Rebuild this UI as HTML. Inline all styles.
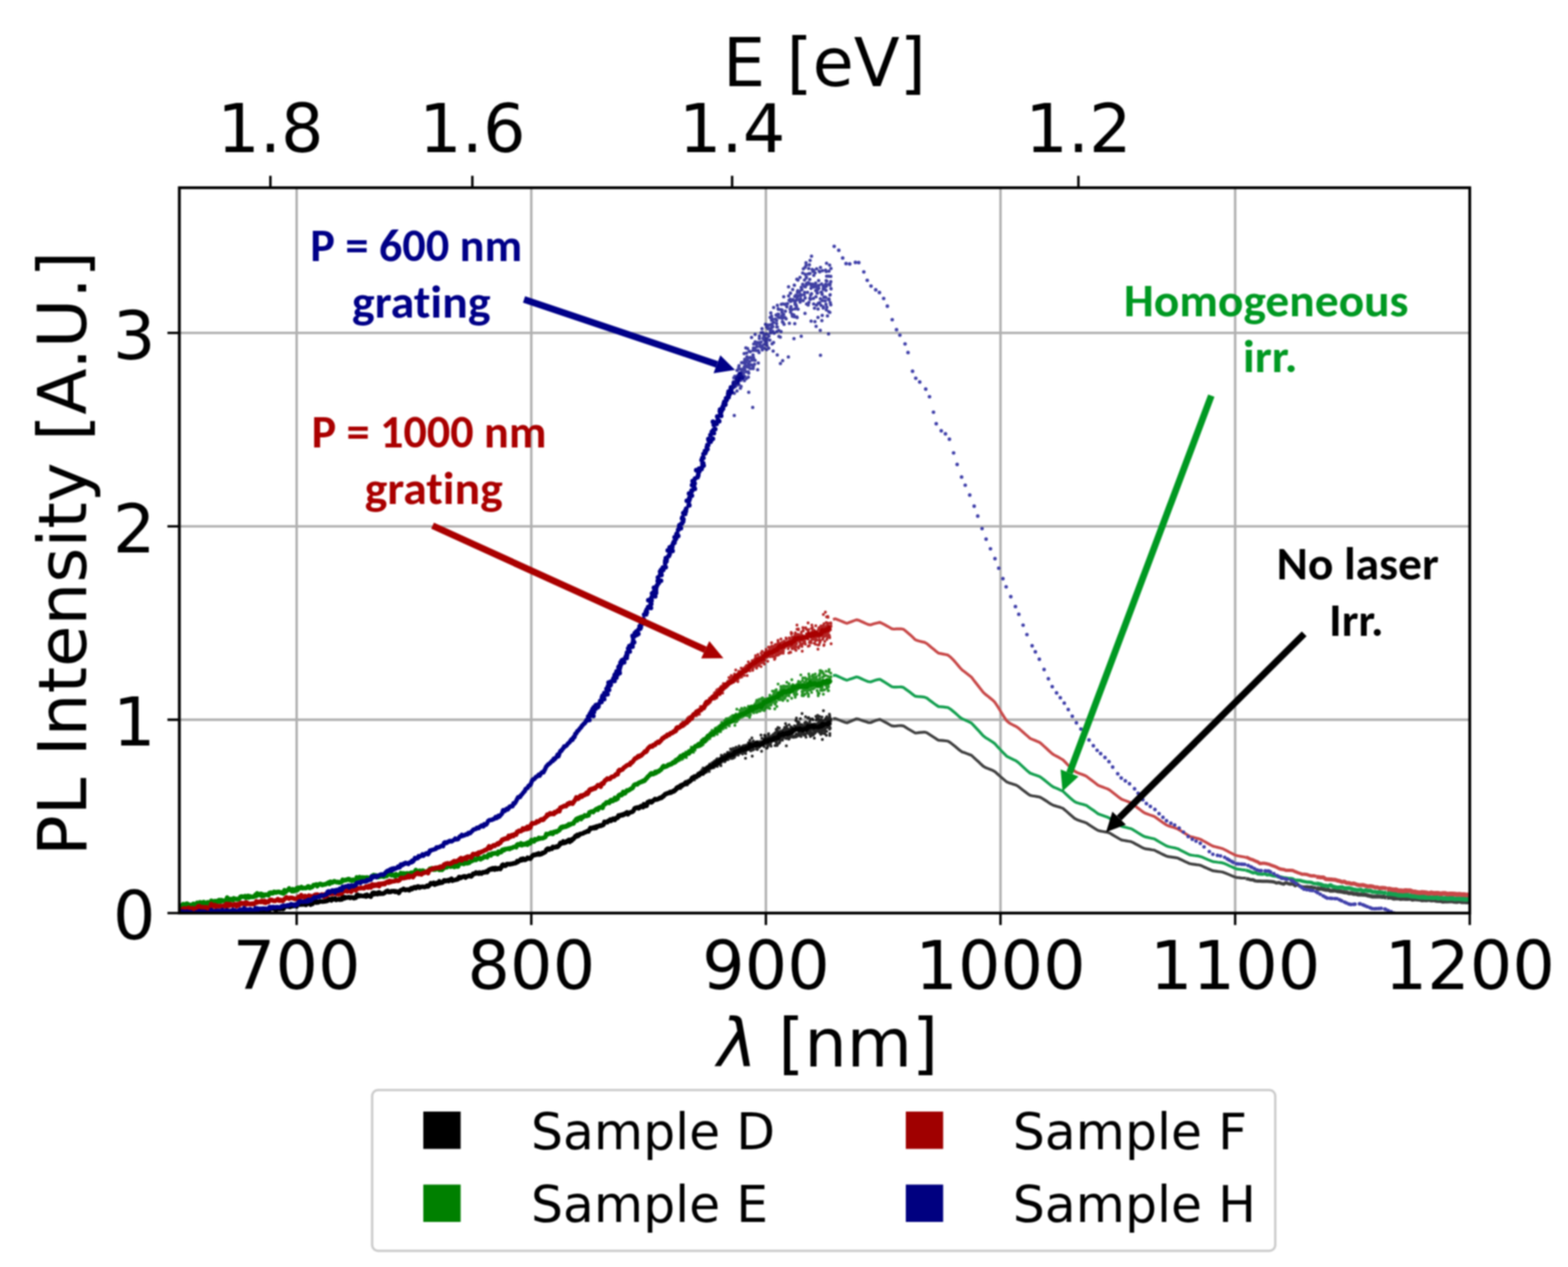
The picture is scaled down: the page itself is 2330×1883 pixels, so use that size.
<!DOCTYPE html>
<html><head><meta charset="utf-8"><title>PL Intensity spectra</title>
<style>html,body{margin:0;padding:0;background:#fff}svg{display:block}#w{filter:blur(0.8px)}</style>
</head><body>
<div id="w"><svg width="2330" height="1883" viewBox="0 0 2330 1883">
<rect width="2330" height="1883" fill="#fff"/>
<path d="M440.8 279.0V1357.0M789.5 279.0V1357.0M1138.1 279.0V1357.0M1486.7 279.0V1357.0M1835.4 279.0V1357.0M266.5 1069.6H2184.0M266.5 782.2H2184.0M266.5 494.8H2184.0" stroke="#b0b0b0" stroke-width="3.6" fill="none"/>
<defs><clipPath id="ax"><rect x="266.5" y="279.0" width="1917.5" height="1078.0"/></clipPath></defs>
<g clip-path="url(#ax)">
<path d="M266.5 1356.5 267.9 1357 269.3 1356.6 270.7 1353.4 272.1 1354 273.5 1353.7 274.9 1354.8 276.3 1356.2 277.7 1354.7 279.1 1354.8 280.4 1355.9 281.8 1356 283.2 1355.9 284.6 1355.2 286 1356.2 287.4 1357 288.8 1355.3 290.2 1356.3 291.6 1355.2 293 1353.1 294.4 1352.7 295.8 1354.4 297.2 1353.6 298.6 1355.1 300 1355.2 301.4 1355.1 302.8 1353.1 304.2 1355.1 305.5 1355.7 306.9 1356 308.3 1354.7 309.7 1355.8 311.1 1355.5 312.5 1355.8 313.9 1354.9 315.3 1353.3 316.7 1354.2 318.1 1355.2 319.5 1354 320.9 1354.6 322.3 1355 323.7 1355.1 325.1 1354.1 326.5 1355.4 327.9 1356.7 329.3 1354.2 330.6 1356.6 332 1356 333.4 1355.5 334.8 1358 336.2 1354.3 337.6 1352.7 339 1354 340.4 1354.6 341.8 1354 343.2 1354.9 344.6 1354.4 346 1355.2 347.4 1356.1 348.8 1354.3 350.2 1355.2 351.6 1354.8 353 1355.5 354.4 1354.4 355.8 1355.1 357.1 1352.8 358.5 1353.9 359.9 1354.3 361.3 1352.2 362.7 1352.8 364.1 1354.3 365.5 1352 366.9 1353.5 368.3 1354 369.7 1355.4 371.1 1355 372.5 1354.2 373.9 1354.3 375.3 1354.5 376.7 1356.3 378.1 1354.7 379.5 1352.1 380.9 1352.8 382.2 1352.5 383.6 1352.6 385 1351.9 386.4 1353 387.8 1352.8 389.2 1354.3 390.6 1354 392 1353.5 393.4 1354.2 394.8 1353.3 396.2 1354.6 397.6 1353.7 399 1354.3 400.4 1349.8 401.8 1351.3 403.2 1349.5 404.6 1349.2 406 1350.7 407.3 1350.1 408.7 1351 410.1 1352.9 411.5 1350.1 412.9 1350.2 414.3 1350.9 415.7 1351.1 417.1 1350.4 418.5 1350.3 419.9 1351 421.3 1350.8 422.7 1346.5 424.1 1347.3 425.5 1347.3 426.9 1346.3 428.3 1347.4 429.7 1346.3 431.1 1347.9 432.5 1347.1 433.8 1346.9 435.2 1346.3 436.6 1346.6 438 1344.9 439.4 1345.6 440.8 1347 442.2 1344.7 443.6 1344.5 445 1342.2 446.4 1344.4 447.8 1342.9 449.2 1344.3 450.6 1343.7 452 1342.2 453.4 1344.7 454.8 1344.8 456.2 1343.4 457.6 1343.2 458.9 1343.2 460.3 1342.5 461.7 1344.3 463.1 1342.8 464.5 1343.2 465.9 1339.7 467.3 1339.8 468.7 1339.2 470.1 1341.4 471.5 1340.1 472.9 1341.1 474.3 1340.2 475.7 1339.5 477.1 1339.8 478.5 1339.6 479.9 1340 481.3 1339.7 482.7 1339.7 484 1338.7 485.4 1339.2 486.8 1338.6 488.2 1336.4 489.6 1336.1 491 1337.3 492.4 1338.2 493.8 1335.6 495.2 1336.7 496.6 1336.3 498 1335.3 499.4 1337.5 500.8 1336.8 502.2 1336.9 503.6 1336.1 505 1337.2 506.4 1336.3 507.8 1336.7 509.2 1333 510.5 1332.9 511.9 1335.2 513.3 1333.5 514.7 1334.2 516.1 1333.9 517.5 1333.5 518.9 1333.5 520.3 1334.5 521.7 1333.6 523.1 1333.8 524.5 1333.9 525.9 1334.9 527.3 1334.5 528.7 1334.2 530.1 1330.5 531.5 1329.8 532.9 1331.9 534.3 1331.9 535.6 1330.9 537 1331.5 538.4 1331.7 539.8 1331.7 541.2 1331.8 542.6 1330.6 544 1332.3 545.4 1329.8 546.8 1331.7 548.2 1331.4 549.6 1331.7 551 1332.6 552.4 1329.4 553.8 1327.1 555.2 1326.6 556.6 1328.8 558 1327.2 559.4 1328.1 560.7 1328.9 562.1 1326.6 563.5 1326.2 564.9 1328.4 566.3 1328.2 567.7 1327.9 569.1 1328.2 570.5 1327.4 571.9 1326.8 573.3 1325.2 574.7 1324.5 576.1 1323.9 577.5 1325.8 578.9 1325.3 580.3 1325.7 581.7 1324.5 583.1 1324.7 584.5 1324.4 585.9 1324.5 587.2 1325.5 588.6 1324.6 590 1325.6 591.4 1325.6 592.8 1327.1 594.2 1324 595.6 1323.2 597 1322.3 598.4 1322.4 599.8 1321 601.2 1321.9 602.6 1322.9 604 1322.1 605.4 1322.3 606.8 1321.9 608.2 1323.1 609.6 1322 611 1320 612.3 1321.3 613.7 1320.1 615.1 1318.8 616.5 1318.4 617.9 1320 619.3 1318.7 620.7 1317.5 622.1 1317.6 623.5 1319.3 624.9 1318.3 626.3 1318.1 627.7 1317.9 629.1 1317.8 630.5 1318.4 631.9 1318 633.3 1317.5 634.7 1316.3 636.1 1317.5 637.4 1316.3 638.8 1314.9 640.2 1312.6 641.6 1313.5 643 1313.4 644.4 1312.1 645.8 1314.7 647.2 1314.3 648.6 1312.4 650 1313.3 651.4 1312.8 652.8 1309.9 654.2 1312.4 655.6 1311.9 657 1311.9 658.4 1310.7 659.8 1308.5 661.2 1308.4 662.6 1309.5 663.9 1308.6 665.3 1308.1 666.7 1309.4 668.1 1307.4 669.5 1307.4 670.9 1306 672.3 1308.9 673.7 1308.2 675.1 1308 676.5 1307.7 677.9 1307 679.3 1307 680.7 1306.4 682.1 1303.5 683.5 1303.6 684.9 1304.8 686.3 1303.8 687.7 1303.1 689 1302.5 690.4 1302.3 691.8 1304.2 693.2 1303 694.6 1302.5 696 1302 697.4 1301.1 698.8 1301.9 700.2 1302.6 701.6 1301.3 703 1298.5 704.4 1298.3 705.8 1298.5 707.2 1296.8 708.6 1297.8 710 1297.1 711.4 1298.4 712.8 1296.8 714.1 1297.8 715.5 1298.4 716.9 1296.6 718.3 1296.1 719.7 1296.6 721.1 1296.3 722.5 1295.1 723.9 1296.2 725.3 1294.6 726.7 1292.3 728.1 1292.2 729.5 1291.2 730.9 1292.2 732.3 1290.5 733.7 1290.4 735.1 1292.3 736.5 1290.1 737.9 1291.7 739.3 1291.8 740.6 1290.4 742 1290.4 743.4 1291.4 744.8 1289.3 746.2 1285.8 747.6 1284.9 749 1285.9 750.4 1286.9 751.8 1286.2 753.2 1284.2 754.6 1284.1 756 1284.1 757.4 1284.6 758.8 1283.9 760.2 1284 761.6 1283.8 763 1283 764.4 1283 765.7 1282.9 767.1 1282.4 768.5 1279.9 769.9 1280.9 771.3 1279.5 772.7 1278.7 774.1 1276.9 775.5 1278.5 776.9 1276.1 778.3 1276.3 779.7 1278.1 781.1 1277.7 782.5 1276.6 783.9 1274.9 785.3 1275.8 786.7 1275.2 788.1 1276.1 789.5 1274.4 790.8 1272.2 792.2 1271 793.6 1270.2 795 1270.9 796.4 1270.4 797.8 1269.1 799.2 1269.9 800.6 1268.4 802 1270 803.4 1269.6 804.8 1269.2 806.2 1267.4 807.6 1267.8 809 1266.8 810.4 1266.2 811.8 1263 813.2 1261.7 814.6 1261.1 816 1262.7 817.3 1261.3 818.7 1261.2 820.1 1261.5 821.5 1258.6 822.9 1259 824.3 1259.4 825.7 1259.1 827.1 1257.9 828.5 1258.7 829.9 1257.5 831.3 1255.8 832.7 1252.8 834.1 1253.9 835.5 1253.1 836.9 1250.5 838.3 1252.9 839.7 1251.8 841.1 1252 842.4 1249.9 843.8 1249.5 845.2 1248.3 846.6 1251.1 848 1248.2 849.4 1249.3 850.8 1246.7 852.2 1246.9 853.6 1244.8 855 1242.6 856.4 1243.3 857.8 1240.8 859.2 1242.3 860.6 1241.2 862 1239.4 863.4 1239.4 864.8 1238.9 866.2 1238.7 867.5 1237.8 868.9 1237 870.3 1236.9 871.7 1235.8 873.1 1235.1 874.5 1235.7 875.9 1233.2 877.3 1230.6 878.7 1231.5 880.1 1230.4 881.5 1229.7 882.9 1230.9 884.3 1229.2 885.7 1230.5 887.1 1228 888.5 1228.6 889.9 1227.6 891.3 1226.7 892.7 1227.5 894 1226.4 895.4 1226.6 896.8 1225.6 898.2 1221.4 899.6 1221.9 901 1221.6 902.4 1222 903.8 1219.9 905.2 1220.2 906.6 1218.2 908 1219.9 909.4 1217.9 910.8 1216.8 912.2 1218 913.6 1218.6 915 1215.8 916.4 1215.7 917.8 1215.6 919.1 1212 920.5 1212.9 921.9 1211.3 923.3 1211 924.7 1211.7 926.1 1210.1 927.5 1210.7 928.9 1209 930.3 1208.3 931.7 1207.3 933.1 1210.2 934.5 1207.8 935.9 1207.8 937.3 1207.1 938.7 1206.8 940.1 1206.3 941.5 1204.7 942.9 1201.6 944.2 1200.7 945.6 1200.7 947 1200 948.4 1201.4 949.8 1201 951.2 1198.9 952.6 1198 954 1198.5 955.4 1199.6 956.8 1195.3 958.2 1197.9 959.6 1195.9 961 1197.4 962.4 1192.2 963.8 1192.4 965.2 1190.8 966.6 1190.8 968 1192.4 969.4 1191.4 970.7 1189.8 972.1 1188.9 973.5 1187.4 974.9 1188.3 976.3 1188.1 977.7 1187.5 979.1 1187 980.5 1185.6 981.9 1186 983.3 1185.5 984.7 1183.4 986.1 1183.4 987.5 1181.1 988.9 1180 990.3 1180.1 991.7 1179.1 993.1 1178.4 994.5 1178.5 995.8 1177 997.2 1178 998.6 1176.8 1000 1176.5 1001.4 1175.5 1002.8 1174.5 1004.2 1173.7 1005.6 1170.9 1007 1170 1008.4 1170.1 1009.8 1169.3 1011.2 1167.5 1012.6 1168.1 1014 1166.2 1015.4 1166.2 1016.8 1165.8 1018.2 1163.5 1019.6 1164.7 1020.9 1164.1 1022.3 1163 1023.7 1162.1 1025.1 1161.3 1026.5 1160 1027.9 1157.1 1029.3 1156.1 1030.7 1155.8 1032.1 1153.9 1033.5 1154.4 1034.9 1153.5 1036.3 1152.5 1037.7 1151.4 1039.1 1151.5 1040.5 1148.7 1041.9 1149.9 1043.3 1148.9 1044.7 1148.2 1046.1 1147.5 1047.4 1145.9 1048.8 1142.7 1050.2 1142.8 1051.6 1141.9 1053 1141 1054.4 1138.7 1055.8 1139.8 1057.2 1139.7 1058.6 1138.8 1060 1137.4 1061.4 1135.1 1062.8 1136.6 1064.2 1134.9 1065.6 1132 1067 1133.9 1068.4 1131.6 1069.8 1131 1071.2 1128.1 1072.5 1129.2 1073.9 1127 1075.3 1126.9 1076.7 1127.6 1078.1 1126.9 1079.5 1124.7 1080.9 1124 1082.3 1122.5 1083.7 1122.4 1085.1 1122.9 1086.5 1122.4 1087.9 1121.6 1089.3 1121.9 1090.7 1119.9 1092.1 1117.3 1093.5 1117.6 1094.9 1117 1096.3 1117 1097.6 1116 1099 1115 1100.4 1115.2 1101.8 1113.6 1103.2 1112.7 1104.6 1114.4 1106 1113.5 1107.4 1113.5 1108.8 1111.3 1110.2 1112.2 1111.6 1111.7 1113 1111.1 1114.4 1106.8 1115.8 1108.2 1117.2 1109 1118.6 1108.2 1120 1107.1 1121.4 1107.3 1122.8 1107.7 1124.1 1104.2 1125.5 1106.3 1126.9 1106.6 1128.3 1106.4 1129.7 1107.1 1131.1 1106.3 1132.5 1105.2 1133.9 1104.9 1135.3 1102.2 1136.7 1100.7 1138.1 1100.8 1139.5 1101.3 1140.9 1101.9 1142.3 1099.7 1143.7 1099.4 1145.1 1099.3 1146.5 1099.9 1147.9 1098.3 1149.2 1099.3 1150.6 1096.7 1152 1097 1153.4 1096.6 1154.8 1097.1 1156.2 1097 1157.6 1091.5 1159 1091.7 1160.4 1092.4 1161.8 1091.2 1163.2 1090 1164.6 1092 1166 1091.1 1167.4 1090.8 1168.8 1089.5 1170.2 1090.6 1171.6 1089.1 1173 1090 1174.3 1087.9 1175.7 1087.6 1177.1 1088.3 1178.5 1084.4 1179.9 1085.4 1181.3 1084.8 1182.7 1083.5 1184.1 1084.2 1185.5 1083.6 1186.9 1084.6 1188.3 1083 1189.7 1083.1 1191.1 1084.4 1192.5 1085.3 1193.9 1085 1195.3 1083.2 1196.7 1083.2 1198.1 1084.4 1199.5 1082.9 1200.8 1079.3 1202.2 1080.2 1203.6 1080.5 1205 1079.4 1206.4 1078.6 1207.8 1078.8 1209.2 1080.7 1210.6 1079.4 1212 1079.9 1213.4 1080.2 1214.8 1080.6 1216.2 1079.7 1217.6 1080.4 1219 1079 1220.4 1079.4 1221.8 1075.9 1223.2 1077.8 1224.6 1076.6 1225.9 1075.8 1227.3 1075.9 1228.7 1075.8 1230.1 1076.4 1231.5 1074.1 1232.9 1074.2 1234.3 1074" stroke="#000000" stroke-width="6.8" fill="none" stroke-linejoin="round"/>
<path d="M998.8 1176.1h0M999.3 1174.6h0M999.3 1175.1h0M999.6 1177.5h0M1000 1175.1h0M1000 1174.5h0M1000.2 1174.9h0M1000.6 1174h0M1000.6 1175.9h0M1000.8 1176.2h0M1000.9 1174h0M1001.4 1176h0M1001.6 1177.2h0M1001.6 1173.4h0M1001.6 1175.5h0M1001.8 1174.9h0M1001.9 1176.2h0M1002 1176h0M1002.2 1175.7h0M1002.2 1174.8h0M1002.7 1173.6h0M1002.8 1176.8h0M1002.8 1173.1h0M1003 1175.3h0M1003.3 1175h0M1003.7 1172.7h0M1003.9 1173.5h0M1004.2 1175.1h0M1004.4 1170.9h0M1004.6 1174h0M1005.2 1172.4h0M1005.5 1172.3h0M1005.7 1170.6h0M1005.9 1172.8h0M1006.2 1170.9h0M1006.4 1172.9h0M1006.4 1170.6h0M1006.7 1172.8h0M1006.7 1172.3h0M1007 1169.3h0M1007 1171.3h0M1007.1 1171.5h0M1007.8 1168.4h0M1007.9 1170.7h0M1008.6 1171.8h0M1008.7 1169.8h0M1008.8 1172.1h0M1009.1 1169h0M1009.5 1168.7h0M1009.6 1170.9h0M1009.8 1170.9h0M1010.3 1169.5h0M1010.5 1169.7h0M1010.5 1170.9h0M1011 1168.6h0M1011.2 1171.9h0M1011.3 1169.8h0M1011.5 1169.6h0M1011.5 1169.4h0M1012 1168.4h0M1012.1 1170.4h0M1012.1 1167.9h0M1012.2 1168.9h0M1012.6 1169.3h0M1012.7 1170.2h0M1013.1 1169.8h0M1013.1 1167.7h0M1013.1 1169.5h0M1013.5 1167.8h0M1013.6 1166.4h0M1014.2 1166.1h0M1014.4 1165.2h0M1014.4 1167.8h0M1014.5 1168.8h0M1014.8 1165.7h0M1014.9 1166.7h0M1015 1165.5h0M1015 1167h0M1015.1 1165.3h0M1015.2 1165.7h0M1015.3 1165.8h0M1016.1 1165.6h0M1016.1 1165.8h0M1016.4 1165.8h0M1016.5 1165.8h0M1016.6 1164.6h0M1016.6 1166.8h0M1017.4 1163.1h0M1017.6 1165.6h0M1017.7 1163.9h0M1018.2 1165.2h0M1018.5 1165.2h0M1018.5 1161.9h0M1018.7 1165.2h0M1018.9 1166.4h0M1019 1165.5h0M1019.1 1164.9h0M1019.1 1161.3h0M1019.2 1164.1h0M1019.2 1163h0M1019.2 1165.8h0M1019.4 1163.7h0M1019.9 1162.9h0M1020.2 1161.1h0M1020.3 1164.7h0M1020.5 1162.6h0M1020.5 1163.1h0M1020.6 1165h0M1020.7 1163.5h0M1020.9 1163.7h0M1021.3 1166.6h0M1021.5 1162h0M1021.6 1162h0M1021.7 1163.4h0M1022 1164.6h0M1022.4 1160h0M1022.4 1161.9h0M1022.6 1160.6h0M1022.7 1159.9h0M1022.8 1162.8h0M1023 1160.6h0M1023 1162.3h0M1023.1 1161.9h0M1023.1 1161.9h0M1023.5 1161.6h0M1023.5 1159.8h0M1023.7 1161.2h0M1023.8 1161.6h0M1023.9 1161.7h0M1024.3 1160.5h0M1025.6 1161.6h0M1025.6 1160.9h0M1026.1 1159.9h0M1026.5 1160.4h0M1026.7 1159.6h0M1026.8 1160.3h0M1027 1155.9h0M1027.6 1156.6h0M1027.8 1157.9h0M1028.2 1158.5h0M1028.2 1154.7h0M1028.4 1157.7h0M1028.5 1158.3h0M1028.6 1157.6h0M1028.7 1157.5h0M1028.7 1155.6h0M1028.9 1157.9h0M1028.9 1154.3h0M1029.1 1159.2h0M1029.1 1156.6h0M1029.1 1159.4h0M1029.4 1154.5h0M1029.8 1157.8h0M1030.3 1157h0M1030.4 1155.2h0M1030.6 1154.6h0M1031 1158.4h0M1031 1157h0M1031.1 1158.8h0M1031.2 1156h0M1031.4 1156.3h0M1031.4 1156.7h0M1031.5 1157.3h0M1031.6 1156.7h0M1031.7 1157.2h0M1031.8 1154.9h0M1032 1153.1h0M1032 1159.1h0M1032.2 1155.8h0M1032.5 1156.1h0M1033.1 1154.1h0M1033.2 1156.6h0M1033.5 1154.9h0M1033.7 1156.4h0M1034.5 1152.7h0M1034.9 1153.5h0M1035.1 1153.9h0M1035.4 1152.7h0M1035.5 1153.8h0M1035.7 1156h0M1035.8 1152h0M1036.3 1152.2h0M1036.7 1152.8h0M1036.7 1150.6h0M1036.7 1150.2h0M1036.8 1154.4h0M1036.9 1153.8h0M1037 1149.3h0M1037.5 1149.2h0M1037.7 1153.1h0M1038.2 1153.7h0M1039.1 1152h0M1039.2 1151.7h0M1039.3 1153.7h0M1039.5 1150.4h0M1039.7 1152.9h0M1040.2 1152.4h0M1040.2 1148.2h0M1040.3 1151.3h0M1040.5 1150h0M1040.7 1148.4h0M1041.4 1147.6h0M1042.5 1149.1h0M1042.6 1148.3h0M1042.7 1150h0M1042.7 1144.7h0M1042.9 1146.9h0M1043.1 1150.3h0M1043.2 1147.9h0M1043.2 1146.5h0M1043.4 1146.9h0M1043.4 1144.1h0M1043.7 1144.8h0M1043.7 1148.7h0M1044.1 1147.5h0M1044.3 1149.8h0M1044.4 1146.7h0M1044.6 1146.7h0M1044.7 1141.4h0M1044.8 1146.7h0M1045 1151.1h0M1045.1 1148.1h0M1045.2 1146.4h0M1045.3 1149.2h0M1045.3 1148.3h0M1045.8 1147h0M1046 1145.4h0M1046 1146.4h0M1046 1148h0M1046.2 1144.3h0M1046.2 1147.1h0M1046.2 1147h0M1046.5 1148.7h0M1046.5 1147.4h0M1046.6 1144.3h0M1046.7 1149.1h0M1047.1 1145.5h0M1047.1 1143.8h0M1047.2 1146.1h0M1047.2 1144.8h0M1047.5 1147.5h0M1048.3 1141.7h0M1049.1 1141.7h0M1049.7 1143.2h0M1049.8 1147.5h0M1050.1 1145.7h0M1050.2 1141.2h0M1050.4 1139.4h0M1050.6 1142.4h0M1050.9 1140.1h0M1051 1144.2h0M1051.3 1143.1h0M1051.9 1142.3h0M1052.4 1141h0M1052.7 1145.2h0M1052.9 1139.5h0M1053 1138.5h0M1053 1144.2h0M1053.5 1144.4h0M1053.8 1140.3h0M1053.9 1142.5h0M1053.9 1146.5h0M1054 1139h0M1054.1 1140.5h0M1054.6 1141.7h0M1054.6 1135.6h0M1055.1 1139.9h0M1055.4 1141.8h0M1055.6 1139.7h0M1055.9 1142.2h0M1056.3 1141.2h0M1056.6 1138.4h0M1056.9 1140.4h0M1056.9 1140.2h0M1057 1135h0M1057.2 1136.8h0M1057.3 1136.9h0M1057.3 1137.5h0M1057.6 1137.4h0M1058.4 1134.6h0M1058.5 1138.1h0M1058.5 1133.5h0M1058.6 1140.3h0M1058.8 1138.5h0M1058.9 1141.2h0M1059.1 1138.5h0M1059.2 1136.3h0M1059.3 1133.9h0M1059.4 1139.1h0M1059.6 1137.3h0M1059.7 1138.1h0M1060.2 1138.8h0M1060.4 1139.8h0M1060.5 1136.6h0M1061 1140.8h0M1061 1136.1h0M1061.1 1136.3h0M1061.3 1137.9h0M1061.3 1138.8h0M1061.5 1139.6h0M1061.5 1131.3h0M1061.8 1139.3h0M1061.9 1131.8h0M1062.1 1134.1h0M1062.5 1136.4h0M1062.6 1138.4h0M1063 1132.4h0M1063.7 1130.2h0M1063.9 1137h0M1064 1135.2h0M1064.3 1131.5h0M1064.5 1133.3h0M1064.9 1128.6h0M1065 1135.3h0M1065.1 1132.3h0M1065.2 1137h0M1065.4 1128h0M1065.8 1135.3h0M1065.9 1139.1h0M1065.9 1133.6h0M1066.4 1133.3h0M1066.5 1127.7h0M1066.5 1133.7h0M1066.8 1132.7h0M1067 1130.9h0M1067.1 1128.2h0M1067.1 1132.6h0M1067.2 1129.6h0M1067.2 1131h0M1067.3 1133.1h0M1067.6 1131.9h0M1067.8 1132h0M1067.9 1134.4h0M1068 1128.6h0M1068 1135.7h0M1068.1 1128.7h0M1068.1 1129.2h0M1068.4 1131.9h0M1068.4 1133.7h0M1068.6 1132.2h0M1068.7 1130.2h0M1068.8 1129.3h0M1068.9 1130.5h0M1069 1128.6h0M1069 1132.8h0M1069.2 1130.5h0M1069.8 1135.2h0M1070 1128.5h0M1070.3 1130.1h0M1070.5 1131.5h0M1070.7 1127h0M1070.8 1128.2h0M1071.2 1137.9h0M1071.3 1129.7h0M1071.5 1133.8h0M1071.7 1126.6h0M1071.8 1122.5h0M1072 1130.9h0M1072.1 1129.1h0M1072.2 1130h0M1072.5 1128.1h0M1073.2 1126.8h0M1073.2 1124.9h0M1073.4 1131.4h0M1073.5 1123.9h0M1073.8 1131h0M1073.9 1127.5h0M1074 1124.8h0M1074.3 1125.9h0M1074.6 1130.6h0M1074.7 1129.8h0M1074.7 1129.1h0M1074.8 1127.9h0M1075 1124.2h0M1075 1131.4h0M1075.4 1126h0M1075.6 1125.4h0M1075.8 1125.5h0M1075.8 1125.7h0M1075.9 1122.6h0M1076 1125.5h0M1076.1 1124.4h0M1076.4 1125.1h0M1076.9 1121.1h0M1076.9 1132.1h0M1077 1122.6h0M1077.2 1127.1h0M1077.2 1127.1h0M1077.3 1129.1h0M1077.4 1131.8h0M1077.6 1127.2h0M1077.9 1128h0M1077.9 1124.4h0M1077.9 1130.3h0M1078 1121.5h0M1078.5 1124.7h0M1078.5 1126.3h0M1078.6 1127.7h0M1079.2 1127.5h0M1079.5 1128.4h0M1079.6 1126.6h0M1079.9 1124.7h0M1079.9 1125.3h0M1080.3 1128.9h0M1080.7 1125.1h0M1080.7 1127h0M1080.9 1123.7h0M1081.1 1118.3h0M1081.2 1122.1h0M1081.4 1124.9h0M1081.8 1128.8h0M1082.2 1127.9h0M1082.2 1128.8h0M1082.5 1121h0M1082.6 1125.7h0M1082.9 1122.9h0M1083.3 1124.9h0M1083.3 1122.6h0M1083.5 1118.3h0M1084.2 1124.6h0M1084.2 1123.5h0M1084.3 1124.9h0M1084.4 1119.5h0M1084.6 1125.5h0M1084.7 1125.8h0M1084.7 1126.6h0M1085.1 1126.5h0M1085.2 1120.4h0M1085.6 1113.3h0M1085.8 1124.8h0M1086.1 1118.3h0M1086.2 1120.6h0M1086.6 1124.8h0M1086.6 1122.1h0M1086.7 1121.9h0M1086.8 1123.4h0M1086.9 1114.7h0M1087 1127.3h0M1087.1 1119.7h0M1087.2 1119.8h0M1087.7 1122.6h0M1088.2 1119.9h0M1088.3 1117.4h0M1088.3 1119.8h0M1088.8 1118.7h0M1089.3 1117.5h0M1089.4 1126.7h0M1089.4 1114.8h0M1089.5 1112.1h0M1089.5 1116.5h0M1089.5 1116.3h0M1089.8 1124.4h0M1089.9 1120h0M1090 1122.3h0M1090.3 1121.4h0M1090.8 1115.9h0M1091.1 1121.8h0M1091.4 1119.4h0M1091.5 1125.5h0M1091.8 1119.3h0M1091.8 1118.4h0M1092.1 1121.1h0M1092.5 1121h0M1092.9 1111.7h0M1093 1122.5h0M1093.5 1121.7h0M1093.8 1120.7h0M1093.9 1113.6h0M1093.9 1110.4h0M1094.2 1116.5h0M1094.3 1120.2h0M1094.5 1119.1h0M1094.6 1113.8h0M1094.7 1120.7h0M1094.8 1112.3h0M1094.9 1112.4h0M1095 1117.1h0M1095 1115h0M1095.1 1114.6h0M1095.4 1111.6h0M1095.4 1120.9h0M1095.6 1112.9h0M1095.8 1118.4h0M1096.3 1119.6h0M1096.7 1116.3h0M1096.7 1117.4h0M1096.9 1120.1h0M1097.1 1122.3h0M1097.4 1119.8h0M1098.3 1110.7h0M1098.3 1108.8h0M1098.5 1113.5h0M1098.8 1111.4h0M1099.8 1117.3h0M1099.9 1115.7h0M1100 1114.3h0M1100.1 1119.3h0M1100.3 1118.9h0M1100.9 1114.6h0M1100.9 1116.1h0M1101.3 1118.8h0M1101.5 1113.3h0M1101.6 1115.7h0M1102 1110.6h0M1102.1 1114.5h0M1102.1 1115.6h0M1102.4 1113.9h0M1102.7 1114.9h0M1102.7 1116.8h0M1102.8 1115.8h0M1102.9 1111.3h0M1103.3 1111.6h0M1103.5 1109h0M1103.5 1120.5h0M1104.3 1115.2h0M1104.6 1115.2h0M1104.7 1112.8h0M1104.8 1115.2h0M1104.8 1115.4h0M1105.4 1110.2h0M1105.4 1112.5h0M1105.4 1117.8h0M1105.5 1108h0M1105.6 1109.3h0M1105.7 1115.4h0M1106.1 1109.7h0M1106.4 1115.8h0M1106.7 1108.3h0M1106.9 1113.5h0M1107 1115.8h0M1107.1 1114.1h0M1107.3 1115.6h0M1107.3 1111.8h0M1107.4 1111.8h0M1107.6 1112.3h0M1107.6 1114.6h0M1107.8 1126.9h0M1107.9 1111.9h0M1108 1119.9h0M1108.1 1111.3h0M1108.1 1107.7h0M1108.2 1111.1h0M1108.3 1113.7h0M1108.4 1112.9h0M1108.5 1112.6h0M1108.5 1114.3h0M1108.6 1114.4h0M1108.9 1115.7h0M1109 1107.2h0M1109.4 1111.8h0M1109.6 1107.8h0M1109.9 1112.6h0M1110 1111.3h0M1110 1112.3h0M1110.2 1109.6h0M1111 1107.8h0M1111.5 1110.1h0M1111.9 1113.7h0M1111.9 1114.1h0M1112.1 1104h0M1112.3 1111.9h0M1113.4 1111.6h0M1113.8 1104.1h0M1113.8 1105.7h0M1114.1 1107.9h0M1114.1 1111.8h0M1114.3 1100.2h0M1114.8 1108.2h0M1114.9 1107.5h0M1115.2 1110.5h0M1115.3 1115.7h0M1115.6 1115.3h0M1115.6 1107.9h0M1116.1 1107.7h0M1116.1 1110.4h0M1116.2 1114.4h0M1116.5 1115.5h0M1116.5 1110.7h0M1116.6 1115.5h0M1116.6 1105.4h0M1116.8 1104.2h0M1117.3 1096.8h0M1117.4 1105.2h0M1117.7 1111.4h0M1117.8 1112.6h0M1117.8 1123.8h0M1117.8 1111.4h0M1118 1109.5h0M1118 1104.6h0M1118.2 1106.1h0M1118.7 1106h0M1118.7 1107.6h0M1118.9 1105.6h0M1118.9 1102.1h0M1118.9 1113.1h0M1119.4 1110.3h0M1119.4 1114.4h0M1119.5 1101.2h0M1119.7 1102.5h0M1119.9 1104.8h0M1119.9 1113.4h0M1120 1107.3h0M1120.3 1109h0M1120.7 1107.5h0M1120.9 1108.6h0M1121 1105.4h0M1121 1109.5h0M1121.3 1103.9h0M1121.4 1106.5h0M1121.8 1108.8h0M1121.9 1108h0M1122 1109.4h0M1122.2 1103.7h0M1122.5 1108.5h0M1123.1 1105.7h0M1124 1108.5h0M1124.2 1113.4h0M1124.7 1102.4h0M1124.9 1111.3h0M1125.1 1103.3h0M1125.2 1104.4h0M1125.4 1113.9h0M1125.7 1110.5h0M1126 1108.4h0M1126.1 1109.8h0M1126.3 1111.4h0M1126.7 1102.4h0M1126.7 1106.9h0M1126.7 1104h0M1126.8 1107.8h0M1126.9 1104.3h0M1127.4 1109.1h0M1127.9 1105.5h0M1128 1102.6h0M1128.4 1105h0M1128.5 1107.3h0M1128.6 1110.3h0M1128.7 1104.3h0M1129.5 1103.2h0M1129.8 1106h0M1129.9 1108.4h0M1130 1102.1h0M1130.8 1092.5h0M1130.8 1105.8h0M1131 1102.7h0M1131.5 1102.3h0M1131.7 1116.5h0M1131.8 1103.4h0M1131.9 1107.4h0M1132.1 1097.3h0M1132.6 1105h0M1133 1107.4h0M1133.3 1104.6h0M1134.8 1102.2h0M1134.8 1105.7h0M1135 1103.2h0M1135.3 1109.5h0M1135.5 1103.8h0M1135.7 1098.8h0M1136.2 1092.7h0M1136.3 1098.9h0M1136.5 1101h0M1136.6 1096.4h0M1137.2 1097h0M1137.3 1093.7h0M1137.4 1096.6h0M1138 1102.4h0M1138.1 1100.5h0M1138.4 1100.8h0M1138.7 1100h0M1138.7 1100.6h0M1138.7 1105.5h0M1139.3 1112.1h0M1139.6 1104.7h0M1140 1111.4h0M1140 1100.7h0M1140.8 1100.8h0M1141 1109.3h0M1141 1097.1h0M1141.1 1096.2h0M1141.6 1100h0M1141.7 1091.8h0M1142.2 1090.5h0M1142.7 1106.3h0M1142.7 1094.6h0M1143.2 1097.5h0M1143.2 1097.7h0M1143.7 1094.8h0M1143.9 1103.4h0M1144.4 1102.5h0M1144.5 1103.7h0M1144.7 1103.3h0M1145 1099.7h0M1145 1106.9h0M1145 1104.7h0M1145.2 1096h0M1145.3 1099.4h0M1145.6 1096.9h0M1145.8 1108.9h0M1145.9 1103h0M1146 1101.7h0M1146.1 1098.6h0M1146.3 1101.8h0M1147 1093.3h0M1147.3 1098.6h0M1147.4 1098.1h0M1148.3 1097.8h0M1148.4 1094h0M1148.8 1100.2h0M1149 1091.5h0M1149 1095.1h0M1149 1096.7h0M1149.4 1097.2h0M1149.4 1094.6h0M1149.8 1091.7h0M1150 1092h0M1150.1 1095.1h0M1150.2 1092.3h0M1151 1096.1h0M1151.3 1089.7h0M1151.6 1096.7h0M1151.7 1108h0M1152.2 1088.8h0M1152.3 1095.6h0M1152.8 1102.6h0M1152.9 1097.1h0M1153.5 1100.7h0M1153.5 1084h0M1153.9 1092.8h0M1153.9 1104.4h0M1153.9 1092.5h0M1153.9 1097.8h0M1154 1084.7h0M1154.2 1101.4h0M1154.6 1108h0M1154.7 1094.9h0M1154.9 1097.2h0M1155 1097.5h0M1155.1 1107.3h0M1155.1 1092.7h0M1155.2 1085.5h0M1155.7 1105.7h0M1155.8 1088.2h0M1156 1098h0M1156 1081.3h0M1156.8 1091.9h0M1156.9 1095.5h0M1157.4 1087.8h0M1157.5 1091.1h0M1157.6 1097.5h0M1157.7 1090h0M1157.7 1097h0M1158 1104.3h0M1158.2 1082.1h0M1158.4 1095.8h0M1158.5 1097.3h0M1158.5 1091.8h0M1158.7 1102.7h0M1158.7 1101.5h0M1159 1096.5h0M1159 1096.6h0M1159.4 1092.9h0M1159.7 1086.7h0M1159.7 1096h0M1160.1 1090.2h0M1160.9 1089.3h0M1160.9 1099.2h0M1161.1 1091.3h0M1161.2 1098.2h0M1161.2 1086.4h0M1162.5 1089.5h0M1162.6 1092h0M1162.8 1100h0M1163 1091.3h0M1163.1 1096.5h0M1163.3 1087.6h0M1163.4 1092.5h0M1163.4 1096.7h0M1163.5 1086.2h0M1163.7 1087.3h0M1163.8 1095.2h0M1163.9 1084.6h0M1164.7 1093.1h0M1164.7 1093.2h0M1164.8 1090.5h0M1165.1 1095.7h0M1165.6 1093.6h0M1165.7 1091.9h0M1165.8 1081.6h0M1165.8 1081.7h0M1166 1092.4h0M1166.1 1080.9h0M1166.9 1090.7h0M1167 1088.1h0M1167 1085h0M1167.2 1088.5h0M1167.3 1075.5h0M1167.6 1088.7h0M1167.7 1097.5h0M1167.8 1082.1h0M1167.9 1092.6h0M1168.2 1091.8h0M1168.5 1108.4h0M1168.5 1083.6h0M1168.6 1084.8h0M1168.8 1084.8h0M1168.8 1083.7h0M1169 1079.1h0M1169.1 1089.9h0M1169.3 1083.7h0M1169.8 1094h0M1170 1091.5h0M1170.2 1082.6h0M1170.6 1086.6h0M1170.7 1097.4h0M1171.1 1086.6h0M1171.2 1090h0M1171.5 1093.9h0M1171.5 1086h0M1171.9 1091.1h0M1172.1 1098.5h0M1172.3 1095.5h0M1172.6 1077.1h0M1172.7 1097.9h0M1172.7 1086.9h0M1172.9 1084.4h0M1173.7 1083.9h0M1174.4 1095.6h0M1174.7 1089.7h0M1174.7 1086.7h0M1174.8 1082.4h0M1174.9 1091.7h0M1175.1 1095h0M1175.2 1081h0M1175.5 1080.2h0M1175.9 1084.8h0M1176.1 1091.1h0M1176.4 1084.4h0M1176.9 1086.2h0M1177.1 1081.4h0M1177.1 1095h0M1177.2 1086h0M1177.4 1087.7h0M1177.5 1094h0M1177.7 1085.2h0M1178.2 1086.2h0M1178.3 1089.1h0M1178.4 1083.8h0M1178.5 1095.7h0M1179.2 1086.5h0M1179.8 1083.1h0M1180 1084h0M1180.5 1078.6h0M1180.9 1093.6h0M1181.1 1095.6h0M1181.8 1083.8h0M1182 1082.3h0M1182.6 1070.8h0M1182.8 1080.9h0M1183.1 1090.9h0M1183.2 1079.5h0M1183.3 1090.6h0M1183.3 1095h0M1183.5 1067.2h0M1183.7 1082.6h0M1183.8 1079.9h0M1184.5 1080.8h0M1184.6 1072.2h0M1184.7 1082.6h0M1185.5 1076h0M1185.6 1091.4h0M1186.6 1093.6h0M1186.7 1074.2h0M1186.8 1073.8h0M1186.8 1080.5h0M1187 1082.4h0M1187.2 1082.8h0M1187.2 1088.7h0M1187.2 1073.2h0M1187.3 1079.3h0M1187.9 1080.2h0M1188 1081.1h0M1188 1076.4h0M1188.3 1080.1h0M1188.5 1078.4h0M1188.5 1091.7h0M1188.8 1080h0M1189.3 1068.1h0M1189.5 1087h0M1189.6 1084.2h0M1189.7 1077.1h0M1189.9 1076.6h0M1190.3 1078.8h0M1190.4 1094.6h0M1190.6 1079.6h0M1190.8 1091.5h0M1191.2 1088.8h0M1191.7 1079h0M1191.7 1085h0M1191.8 1077.1h0M1191.8 1060.5h0M1191.9 1077.3h0M1192 1077.7h0M1192 1089.2h0M1192.3 1087.4h0M1192.7 1090.3h0M1192.9 1086.5h0M1193 1090.5h0M1193.2 1087.3h0M1193.4 1084.1h0M1194.3 1089.6h0M1194.8 1092.6h0M1194.9 1092.1h0M1195.2 1079h0M1195.5 1081.8h0M1195.8 1074.7h0M1195.9 1074.5h0M1196.5 1084.5h0M1196.8 1077.1h0M1196.9 1092.5h0M1197.1 1065.2h0M1197.1 1073.2h0M1197.4 1083.5h0M1197.6 1090.4h0M1197.6 1079.1h0M1197.7 1095.6h0M1198.9 1087.4h0M1198.9 1076.1h0M1199.1 1081.1h0M1199.3 1085.2h0M1199.4 1074.5h0M1199.8 1089.2h0M1199.9 1079.4h0M1199.9 1085.2h0M1200.2 1087.8h0M1200.3 1078h0M1200.3 1088.8h0M1200.7 1067.2h0M1201.2 1085.7h0M1201.5 1066.4h0M1201.5 1089.5h0M1201.8 1076.7h0M1202.5 1090.2h0M1202.6 1091.2h0M1202.8 1079.9h0M1202.9 1076h0M1203.2 1090.7h0M1203.4 1072h0M1203.8 1087h0M1204 1079.9h0M1204.1 1078h0M1204.1 1076.4h0M1204.2 1094.6h0M1204.4 1068.6h0M1204.6 1076.6h0M1204.7 1084.1h0M1205 1088.6h0M1205.1 1093.7h0M1205.5 1091.2h0M1205.9 1076.5h0M1206 1083.3h0M1206.1 1089.3h0M1206.7 1084.6h0M1207.1 1068.4h0M1208 1083h0M1208 1084.9h0M1208.2 1069.9h0M1208.3 1076.8h0M1208.5 1080h0M1208.5 1085.1h0M1208.6 1092.4h0M1208.8 1089.4h0M1209 1084h0M1209.2 1082h0M1209.2 1077.4h0M1209.4 1075.9h0M1209.4 1078.5h0M1209.8 1078.4h0M1209.9 1088h0M1210.1 1097h0M1210.1 1084.2h0M1210.5 1087.6h0M1210.6 1085.2h0M1210.8 1082.2h0M1210.8 1089.8h0M1211.4 1088.7h0M1211.4 1080.7h0M1211.5 1079h0M1211.6 1085.1h0M1211.9 1075.9h0M1212 1081.6h0M1212.3 1087.9h0M1212.4 1079.5h0M1212.4 1064.8h0M1212.7 1085.1h0M1212.9 1070.4h0M1213.8 1068.5h0M1214.2 1067.5h0M1214.8 1086h0M1215 1063.2h0M1215.1 1078.4h0M1215.4 1081.4h0M1215.6 1081.1h0M1215.7 1074.4h0M1215.9 1078.8h0M1216 1080.7h0M1216.5 1068.8h0M1216.5 1085h0M1216.7 1087.5h0M1217 1072.7h0M1217 1073.4h0M1217.1 1070.2h0M1217.5 1087.6h0M1217.6 1070.3h0M1217.7 1075.1h0M1217.8 1064.7h0M1218.1 1088.9h0M1218.3 1077.1h0M1218.8 1081h0M1219.7 1091.4h0M1219.8 1084.3h0M1219.8 1069.5h0M1220 1082.3h0M1220 1084.3h0M1220.1 1071.5h0M1220.2 1070.5h0M1220.3 1070.5h0M1220.6 1084.7h0M1220.6 1078.9h0M1220.8 1070.1h0M1220.9 1083.6h0M1221.2 1084.3h0M1221.5 1071.6h0M1221.5 1065.6h0M1221.7 1087.4h0M1222 1099h0M1222.1 1089.8h0M1222.2 1086.2h0M1222.3 1079.2h0M1222.7 1073h0M1222.7 1079.1h0M1222.9 1083.6h0M1223.2 1076.6h0M1223.3 1085.6h0M1223.5 1078.2h0M1223.5 1082.9h0M1223.6 1056.2h0M1223.7 1071.2h0M1224.7 1084.2h0M1225.3 1085.4h0M1225.5 1080.8h0M1225.5 1090.5h0M1225.6 1083.2h0M1225.7 1083.2h0M1225.7 1070.1h0M1225.7 1080.7h0M1226.1 1083.5h0M1226.2 1087.9h0M1226.4 1086.6h0M1226.8 1077.5h0M1226.8 1078.7h0M1226.9 1067.8h0M1227 1082h0M1227.2 1068.3h0M1227.4 1074.8h0M1227.9 1076.7h0M1228 1092.8h0M1228.4 1086.9h0M1228.4 1070.6h0M1228.5 1065.3h0M1228.5 1074.8h0M1229.1 1070.2h0M1229.6 1079.5h0M1229.7 1079.1h0M1230.5 1081.3h0M1230.8 1068h0M1231.2 1072.9h0M1231.2 1077.6h0M1231.3 1078.3h0M1231.8 1071h0M1232.3 1072.7h0M1232.5 1081.9h0M1232.5 1061.4h0M1232.5 1073.2h0M1232.7 1075.1h0M1232.7 1063.2h0M1232.8 1066.9h0M1232.8 1075.8h0M1232.8 1070.8h0M1232.8 1083.7h0M1233 1080.1h0M1233.1 1093.1h0M1233.1 1065.1h0M1233.2 1090.1h0M1233.3 1069.3h0M1233.4 1081.4h0M1233.7 1082.4h0M1234 1075.8h0M1234.4 1071.8h0M1234.9 1068.6h0" stroke="#000000" stroke-width="4.4" stroke-linecap="round" fill="none" opacity="0.85"/>
<path d="M1237.8 1068.4 1241.3 1067.9 1244.8 1069.2 1248.3 1070.6 1251.7 1072 1255.2 1073.4 1258.7 1074.3 1262.2 1072.8 1265.7 1071.3 1269.2 1069.8 1272.7 1068.3 1276.2 1068.9 1279.6 1070.2 1283.1 1071.4 1286.6 1072.6 1290.1 1073.8 1293.6 1074 1297.1 1072.5 1300.6 1071.1 1304 1070 1307.5 1069.1 1311 1071 1314.5 1072.8 1318 1074.7 1321.5 1076.7 1325 1078.7 1328.4 1079.2 1331.9 1078.9 1335.4 1078.5 1338.9 1078.4 1342.4 1078.8 1345.9 1081.1 1349.4 1083.3 1352.9 1085.3 1356.3 1087.3 1359.8 1089.3 1363.3 1089.1 1366.8 1088.7 1370.3 1088.4 1373.8 1088.1 1377.3 1089.1 1380.7 1091.3 1384.2 1093.6 1387.7 1095.8 1391.2 1098.1 1394.7 1100.2 1398.2 1100.4 1401.7 1100.7 1405.1 1101 1408.6 1101.5 1412.1 1103.6 1415.6 1106.3 1419.1 1109.1 1422.6 1112.1 1426.1 1115.1 1429.6 1117.4 1433 1118.6 1436.5 1119.9 1440 1121.2 1443.5 1122.5 1447 1125.7 1450.5 1129 1454 1132.1 1457.4 1135.4 1460.9 1138.6 1464.4 1140.7 1467.9 1142.1 1471.4 1143.5 1474.9 1144.9 1478.4 1146.8 1481.8 1149.9 1485.3 1153 1488.8 1156 1492.3 1159 1495.8 1162 1499.3 1163.4 1502.8 1164.6 1506.3 1165.7 1509.7 1166.8 1513.2 1168.8 1516.7 1171.6 1520.2 1174.4 1523.7 1177 1527.2 1179.7 1530.7 1182 1534.1 1182.7 1537.6 1183.3 1541.1 1183.9 1544.6 1184.5 1548.1 1186.2 1551.6 1188.4 1555.1 1190.6 1558.5 1192.9 1562 1195.2 1565.5 1197 1569 1197.9 1572.5 1198.9 1576 1200.1 1579.5 1201.4 1583 1204.3 1586.4 1207.3 1589.9 1210.3 1593.4 1213.3 1596.9 1216.3 1600.4 1218.2 1603.9 1219.5 1607.4 1220.7 1610.8 1221.7 1614.3 1223.1 1617.8 1225.5 1621.3 1227.8 1624.8 1230 1628.3 1232.2 1631.8 1234.3 1635.2 1235.1 1638.7 1235.8 1642.2 1236.4 1645.7 1237 1649.2 1238.3 1652.7 1240.4 1656.2 1242.5 1659.7 1244.5 1663.1 1246.5 1666.6 1248.4 1670.1 1249 1673.6 1249.6 1677.1 1250.2 1680.6 1250.8 1684.1 1252.4 1687.5 1254.3 1691 1256.2 1694.5 1258.1 1698 1260 1701.5 1261.4 1705 1261.9 1708.5 1262.4 1711.9 1263 1715.4 1263.5 1718.9 1265.3 1722.4 1267 1725.9 1268.8 1729.4 1270.5 1732.9 1272.2 1736.4 1273.1 1739.8 1273.6 1743.3 1274.1 1746.8 1274.6 1750.3 1275.3 1753.8 1277 1757.3 1278.6 1760.8 1280.3 1764.2 1281.9 1767.7 1283.5 1771.2 1284.1 1774.7 1284.6 1778.2 1285.1 1781.7 1285.5 1785.2 1286.6 1788.6 1288.2 1792.1 1289.7 1795.6 1291.3 1799.1 1292.8 1802.6 1294.2 1806.1 1294.6 1809.6 1295.1 1813.1 1295.5 1816.5 1296 1820 1297.2 1823.5 1298.6 1827 1300.1 1830.5 1301.6 1834 1303 1837.5 1304.1 1840.9 1304.4 1844.4 1304.8 1847.9 1305 1851.4 1305.1" stroke="#404040" stroke-width="4.2" fill="none" stroke-linejoin="round"/>
<path d="M1851.4 1306 1854.9 1306.3 1858.4 1307.5 1861.9 1307.6 1865.3 1309.1 1868.8 1309.6 1872.3 1309.5 1875.8 1309.7 1879.3 1309.7 1882.8 1309.8 1886.3 1310 1889.8 1310.3 1893.2 1310.8 1896.7 1312.2 1900.2 1311.6 1903.7 1312.8 1907.2 1314 1910.7 1312 1914.2 1313.2 1917.6 1314 1921.1 1313.3 1924.6 1316.2 1928.1 1314.3 1931.6 1317.1 1935.1 1317.9 1938.6 1318.2 1942 1317.9 1945.5 1318.5 1949 1318.3 1952.5 1319.5 1956 1319.2" stroke="#404040" stroke-width="5.0" fill="none" stroke-linejoin="round"/>
<path d="M1956 1319.6 1959.5 1320.9 1963 1320.5 1966.5 1321.6 1969.9 1322.4 1973.4 1322.2 1976.9 1323.8 1980.4 1323.8 1983.9 1323.3 1987.4 1324.5 1990.9 1324.7 1994.3 1325.3 1997.8 1326.2 2001.3 1326.3 2004.8 1327.6 2008.3 1327.3 2011.8 1328.6 2015.3 1328.5 2018.7 1329.5 2022.2 1329.2 2025.7 1329.7 2029.2 1329.8 2032.7 1331 2036.2 1331.6 2039.7 1332.6 2043.2 1332.5 2046.6 1332.3 2050.1 1332.4 2053.6 1333 2057.1 1333.1 2060.6 1334.2" stroke="#404040" stroke-width="6.0" fill="none" stroke-linejoin="round"/>
<path d="M2060.6 1333.9 2064.1 1333.3 2067.6 1333.6 2071 1335 2074.5 1334.7 2078 1334.7 2081.5 1335.6 2085 1335.1 2088.5 1335.4 2092 1335.5 2095.4 1335 2098.9 1336.6 2102.4 1335.8 2105.9 1336.3 2109.4 1336.4 2112.9 1337.4 2116.4 1337.1 2119.9 1337.4 2123.3 1336.7 2126.8 1337.7 2130.3 1337.2 2133.8 1338.2 2137.3 1338.4 2140.8 1338.4 2144.3 1339.6 2147.7 1339 2151.2 1339.2 2154.7 1339.1 2158.2 1339.1 2161.7 1339.8 2165.2 1340 2168.7 1338.9 2172.1 1340.2 2175.6 1340.1 2179.1 1340.4 2182.6 1340.2" stroke="#404040" stroke-width="7.0" fill="none" stroke-linejoin="round"/>
<path d="M266.5 1346.8 267.9 1346.8 269.3 1349.5 270.7 1345.3 272.1 1343.8 273.5 1345.4 274.9 1344.8 276.3 1343.4 277.7 1343 279.1 1343.6 280.4 1345.3 281.8 1345 283.2 1344.8 284.6 1345.3 286 1345.6 287.4 1343.2 288.8 1344.8 290.2 1344.3 291.6 1343.9 293 1341.7 294.4 1342.1 295.8 1342 297.2 1340.9 298.6 1341.8 300 1344 301.4 1341.2 302.8 1340.6 304.2 1342.4 305.5 1342.7 306.9 1342.5 308.3 1341.1 309.7 1343 311.1 1341.4 312.5 1341.1 313.9 1338.7 315.3 1339.2 316.7 1339.9 318.1 1339.8 319.5 1339.2 320.9 1340 322.3 1339.2 323.7 1340 325.1 1337.9 326.5 1337.7 327.9 1339.8 329.3 1337.8 330.6 1338.8 332 1339 333.4 1338.6 334.8 1338.6 336.2 1337.4 337.6 1333.9 339 1337 340.4 1338.2 341.8 1336.1 343.2 1336.1 344.6 1336.7 346 1337.7 347.4 1335 348.8 1336.1 350.2 1335.8 351.6 1336.5 353 1336.1 354.4 1336.5 355.8 1335.5 357.1 1333.1 358.5 1332.4 359.9 1332.4 361.3 1332.9 362.7 1332.8 364.1 1331.9 365.5 1334.3 366.9 1332.8 368.3 1331.6 369.7 1333.8 371.1 1332.1 372.5 1333.2 373.9 1332.7 375.3 1333 376.7 1332.9 378.1 1332.2 379.5 1329.9 380.9 1331.6 382.2 1327.8 383.6 1329.8 385 1330.1 386.4 1328.7 387.8 1328.4 389.2 1331.6 390.6 1329.3 392 1331.4 393.4 1330 394.8 1329.6 396.2 1329.9 397.6 1330 399 1330.5 400.4 1327 401.8 1326.7 403.2 1326.7 404.6 1327.7 406 1327.2 407.3 1325.5 408.7 1325.8 410.1 1326.6 411.5 1325.7 412.9 1325.9 414.3 1325.4 415.7 1325.9 417.1 1326.5 418.5 1327 419.9 1326.1 421.3 1327.9 422.7 1323.1 424.1 1326 425.5 1324 426.9 1323.5 428.3 1322.5 429.7 1320.4 431.1 1322.7 432.5 1323 433.8 1324.5 435.2 1321.5 436.6 1324.4 438 1322.4 439.4 1323.2 440.8 1320.2 442.2 1322.6 443.6 1319.3 445 1320.1 446.4 1319.5 447.8 1318.3 449.2 1320.1 450.6 1319.8 452 1319.7 453.4 1319.9 454.8 1319.9 456.2 1318.8 457.6 1317.5 458.9 1317.4 460.3 1319.8 461.7 1319.1 463.1 1318.5 464.5 1317.9 465.9 1315.4 467.3 1315.3 468.7 1314.9 470.1 1314.5 471.5 1317 472.9 1315.2 474.3 1314.3 475.7 1313.6 477.1 1314 478.5 1315.3 479.9 1315.2 481.3 1314.3 482.7 1314.4 484 1314 485.4 1313.2 486.8 1312.5 488.2 1311.6 489.6 1313.5 491 1310.5 492.4 1311 493.8 1311.9 495.2 1310.8 496.6 1309.7 498 1310.1 499.4 1311 500.8 1311.1 502.2 1310.7 503.6 1311.6 505 1311.6 506.4 1310.9 507.8 1310.6 509.2 1307.5 510.5 1308.2 511.9 1308.5 513.3 1307.7 514.7 1308 516.1 1307.3 517.5 1306.3 518.9 1306.6 520.3 1308.2 521.7 1307.9 523.1 1308.9 524.5 1307.5 525.9 1308.2 527.3 1308.6 528.7 1308.3 530.1 1304 531.5 1304.4 532.9 1304.6 534.3 1303.6 535.6 1304.9 537 1305.4 538.4 1304.1 539.8 1306.3 541.2 1304.2 542.6 1304.3 544 1304.3 545.4 1303.9 546.8 1304.9 548.2 1304.6 549.6 1306 551 1305.1 552.4 1302.3 553.8 1301.6 555.2 1300.6 556.6 1301.8 558 1301.1 559.4 1302.8 560.7 1301.9 562.1 1303.5 563.5 1302.7 564.9 1302.8 566.3 1302.3 567.7 1302.4 569.1 1302.8 570.5 1303.1 571.9 1301.7 573.3 1300 574.7 1302 576.1 1299.6 577.5 1299.5 578.9 1299.1 580.3 1298.5 581.7 1300.9 583.1 1300 584.5 1300.2 585.9 1301.7 587.2 1302.3 588.6 1299.3 590 1301.1 591.4 1300.7 592.8 1300.6 594.2 1300.7 595.6 1297.5 597 1299 598.4 1298.1 599.8 1297.9 601.2 1298.8 602.6 1298.5 604 1298.1 605.4 1298 606.8 1299.3 608.2 1298.2 609.6 1297.7 611 1297 612.3 1297.5 613.7 1296.9 615.1 1297.9 616.5 1295.3 617.9 1293.2 619.3 1295 620.7 1295.6 622.1 1295.2 623.5 1294.2 624.9 1296.2 626.3 1294.4 627.7 1293.9 629.1 1294.1 630.5 1295 631.9 1295.9 633.3 1296 634.7 1295.2 636.1 1293.9 637.4 1294.3 638.8 1291.3 640.2 1291.9 641.6 1290.5 643 1292.1 644.4 1292.6 645.8 1291.8 647.2 1292.3 648.6 1291 650 1290.5 651.4 1291.2 652.8 1292.8 654.2 1292.6 655.6 1291.2 657 1292.6 658.4 1291.2 659.8 1289.9 661.2 1288.9 662.6 1288 663.9 1289 665.3 1287.5 666.7 1287.2 668.1 1286.6 669.5 1288.1 670.9 1287.6 672.3 1287.5 673.7 1287 675.1 1288.5 676.5 1286.7 677.9 1286.3 679.3 1287.9 680.7 1287.8 682.1 1283.9 683.5 1281.8 684.9 1282.6 686.3 1283.5 687.7 1282.8 689 1284 690.4 1281.1 691.8 1282.8 693.2 1281.4 694.6 1282.9 696 1281.4 697.4 1282.2 698.8 1280.5 700.2 1279.5 701.6 1279.6 703 1277 704.4 1276.4 705.8 1278.2 707.2 1278.1 708.6 1276.9 710 1275.4 711.4 1276 712.8 1275.3 714.1 1277 715.5 1275.7 716.9 1275.6 718.3 1274.5 719.7 1272.8 721.1 1273.7 722.5 1273.1 723.9 1274.1 725.3 1270.8 726.7 1269.7 728.1 1269.8 729.5 1271.2 730.9 1268.6 732.3 1268.4 733.7 1268.7 735.1 1267.9 736.5 1267.9 737.9 1268.4 739.3 1269.2 740.6 1265.7 742 1267 743.4 1266.7 744.8 1266.3 746.2 1263.1 747.6 1262.6 749 1263.5 750.4 1261.9 751.8 1261.9 753.2 1261.7 754.6 1261.5 756 1260.9 757.4 1261.7 758.8 1260.5 760.2 1260.4 761.6 1259.9 763 1258.8 764.4 1258.7 765.7 1258.3 767.1 1259.1 768.5 1255.3 769.9 1254.7 771.3 1255.7 772.7 1255.7 774.1 1253.4 775.5 1256.3 776.9 1254.6 778.3 1254.3 779.7 1255.1 781.1 1253.9 782.5 1253.1 783.9 1255.3 785.3 1252.1 786.7 1252.7 788.1 1253.2 789.5 1248.4 790.8 1248.9 792.2 1249 793.6 1250.5 795 1247.2 796.4 1247.6 797.8 1247.8 799.2 1247 800.6 1245.4 802 1246.5 803.4 1245.8 804.8 1245.7 806.2 1245.9 807.6 1245.4 809 1244.5 810.4 1244 811.8 1239.5 813.2 1239.9 814.6 1239.8 816 1238.8 817.3 1238.8 818.7 1237.5 820.1 1239.2 821.5 1239.3 822.9 1236.5 824.3 1236.7 825.7 1235.7 827.1 1236.5 828.5 1235.3 829.9 1234.5 831.3 1233.7 832.7 1230.7 834.1 1229.2 835.5 1230.2 836.9 1228.5 838.3 1229.1 839.7 1228.2 841.1 1228.5 842.4 1227 843.8 1227.4 845.2 1225.1 846.6 1225.9 848 1224.6 849.4 1224.5 850.8 1223.8 852.2 1224 853.6 1220.8 855 1219.5 856.4 1217.3 857.8 1219.2 859.2 1215.8 860.6 1216 862 1214.9 863.4 1217.3 864.8 1214 866.2 1214.7 867.5 1213.5 868.9 1211.8 870.3 1212.5 871.7 1212.8 873.1 1211.5 874.5 1211.9 875.9 1207.3 877.3 1207 878.7 1206.1 880.1 1206.1 881.5 1206.9 882.9 1204.9 884.3 1204.1 885.7 1202.8 887.1 1202 888.5 1203.4 889.9 1200.4 891.3 1200 892.7 1200.1 894 1199.2 895.4 1200.7 896.8 1196.2 898.2 1195.2 899.6 1194.9 901 1192.6 902.4 1192.4 903.8 1192.7 905.2 1193.2 906.6 1190.2 908 1189 909.4 1190.7 910.8 1190.5 912.2 1188.2 913.6 1185.9 915 1188.5 916.4 1186.4 917.8 1186.9 919.1 1182.4 920.5 1181.4 921.9 1180.7 923.3 1181.7 924.7 1180.9 926.1 1177 927.5 1177.3 928.9 1179 930.3 1176.4 931.7 1174.7 933.1 1175.2 934.5 1174.3 935.9 1173.5 937.3 1172.4 938.7 1171.8 940.1 1170.9 941.5 1168 942.9 1166.2 944.2 1165.9 945.6 1165.3 947 1165.8 948.4 1164.2 949.8 1163 951.2 1162.8 952.6 1161.9 954 1161.8 955.4 1160.5 956.8 1160.9 958.2 1159.8 959.6 1157.8 961 1156.8 962.4 1154.4 963.8 1153.4 965.2 1152.2 966.6 1150.3 968 1149.3 969.4 1150.6 970.7 1150.4 972.1 1149.8 973.5 1147.3 974.9 1148.7 976.3 1146.7 977.7 1146.9 979.1 1146.3 980.5 1144.6 981.9 1144.2 983.3 1142.3 984.7 1139.9 986.1 1138.5 987.5 1140 988.9 1139 990.3 1139.2 991.7 1138.1 993.1 1136.6 994.5 1136.9 995.8 1135.6 997.2 1135.9 998.6 1135 1000 1133.2 1001.4 1133.5 1002.8 1132.9 1004.2 1131.9 1005.6 1129.5 1007 1129.6 1008.4 1127 1009.8 1126.3 1011.2 1123.9 1012.6 1125.1 1014 1124.1 1015.4 1121.8 1016.8 1123.3 1018.2 1122.8 1019.6 1120.8 1020.9 1120.3 1022.3 1118.9 1023.7 1119.7 1025.1 1116.8 1026.5 1117 1027.9 1115.4 1029.3 1112.8 1030.7 1112.3 1032.1 1110.8 1033.5 1109 1034.9 1109.1 1036.3 1108.6 1037.7 1106.4 1039.1 1106.7 1040.5 1106.6 1041.9 1105.5 1043.3 1102.2 1044.7 1101.8 1046.1 1100.3 1047.4 1101.8 1048.8 1097.6 1050.2 1096.8 1051.6 1094.4 1053 1093.2 1054.4 1093.4 1055.8 1092.5 1057.2 1090.7 1058.6 1090.7 1060 1090.2 1061.4 1088.9 1062.8 1086.9 1064.2 1085 1065.6 1085.8 1067 1085.3 1068.4 1084 1069.8 1083 1071.2 1079.1 1072.5 1079.6 1073.9 1078 1075.3 1077.4 1076.7 1075.6 1078.1 1075.1 1079.5 1075 1080.9 1073.2 1082.3 1072.2 1083.7 1072.3 1085.1 1073 1086.5 1071.4 1087.9 1071.8 1089.3 1069.7 1090.7 1068.9 1092.1 1064.5 1093.5 1064.6 1094.9 1065.8 1096.3 1064.2 1097.6 1064 1099 1063.4 1100.4 1062.2 1101.8 1061.4 1103.2 1061.2 1104.6 1061.1 1106 1060.4 1107.4 1059.9 1108.8 1059 1110.2 1057.7 1111.6 1057.6 1113 1056.5 1114.4 1054.9 1115.8 1051.6 1117.2 1052.8 1118.6 1054.7 1120 1051.7 1121.4 1050.5 1122.8 1051 1124.1 1051.7 1125.5 1049.9 1126.9 1050.1 1128.3 1049.1 1129.7 1048.2 1131.1 1050.9 1132.5 1047.6 1133.9 1046.6 1135.3 1043.3 1136.7 1043.6 1138.1 1043.2 1139.5 1043 1140.9 1041.9 1142.3 1039.9 1143.7 1041.2 1145.1 1039.9 1146.5 1039.3 1147.9 1037.7 1149.2 1037.9 1150.6 1037.2 1152 1037.3 1153.4 1035.4 1154.8 1036.2 1156.2 1035.7 1157.6 1031.2 1159 1031.1 1160.4 1030.3 1161.8 1031.4 1163.2 1027.8 1164.6 1029.2 1166 1027.5 1167.4 1028.1 1168.8 1028.7 1170.2 1026.9 1171.6 1027.2 1173 1025.8 1174.3 1027.9 1175.7 1026.6 1177.1 1026.4 1178.5 1021 1179.9 1020.9 1181.3 1022.5 1182.7 1021.1 1184.1 1020.7 1185.5 1021 1186.9 1019.4 1188.3 1021 1189.7 1020.2 1191.1 1020.5 1192.5 1019.3 1193.9 1020.3 1195.3 1019.2 1196.7 1020.6 1198.1 1020.7 1199.5 1020.5 1200.8 1017.3 1202.2 1017.4 1203.6 1014.4 1205 1017.6 1206.4 1016.6 1207.8 1017 1209.2 1016.6 1210.6 1015.6 1212 1016.4 1213.4 1017.5 1214.8 1018.1 1216.2 1016.3 1217.6 1016 1219 1018 1220.4 1015.8 1221.8 1015.6 1223.2 1013.7 1224.6 1012.7 1225.9 1014.2 1227.3 1014.6 1228.7 1011.6 1230.1 1014 1231.5 1012.1 1232.9 1013.2 1234.3 1010.5" stroke="#008000" stroke-width="6.8" fill="none" stroke-linejoin="round"/>
<path d="M999.1 1133.7h0M999.2 1132.6h0M999.3 1132.9h0M999.4 1134.4h0M999.5 1133.8h0M999.6 1133.7h0M999.7 1135.2h0M1000 1134.5h0M1000.9 1131.7h0M1001.6 1134.3h0M1001.6 1131.2h0M1001.8 1132h0M1001.8 1132.5h0M1002 1131.6h0M1002.1 1131.6h0M1002.3 1130.6h0M1002.3 1132.5h0M1002.4 1132.3h0M1002.4 1132.3h0M1002.4 1129.7h0M1002.5 1130.8h0M1002.6 1132.9h0M1003.2 1131.9h0M1003.2 1132.3h0M1003.3 1131.4h0M1003.5 1131.1h0M1004.1 1128.2h0M1004.3 1133h0M1004.7 1129.3h0M1004.9 1130h0M1005 1131.3h0M1005.1 1130.6h0M1005.4 1130.8h0M1005.4 1130.1h0M1005.6 1128.8h0M1006.3 1131.5h0M1006.5 1127.9h0M1006.5 1130h0M1006.6 1127.6h0M1006.7 1128.9h0M1006.9 1127.7h0M1007.3 1128.3h0M1007.3 1127.6h0M1007.5 1128.8h0M1007.7 1129.8h0M1009.1 1127h0M1009.3 1126.9h0M1009.3 1125.1h0M1009.5 1130.2h0M1009.6 1127.9h0M1009.6 1126.2h0M1009.7 1129.2h0M1009.7 1127.8h0M1009.8 1124.7h0M1010 1125.5h0M1010 1128.5h0M1010.1 1125.4h0M1010.4 1125.5h0M1010.5 1126h0M1010.6 1126.5h0M1010.6 1126.6h0M1010.7 1128.1h0M1011.2 1127.3h0M1011.5 1125.4h0M1011.8 1126h0M1012.1 1123.5h0M1012.7 1126.1h0M1012.8 1128.8h0M1012.9 1125.9h0M1013 1125h0M1013.4 1124.6h0M1013.5 1125h0M1013.6 1126.1h0M1013.7 1122.9h0M1014 1125.7h0M1014.3 1123.6h0M1014.3 1124.9h0M1014.5 1126.1h0M1014.6 1122.4h0M1014.7 1127.8h0M1014.8 1125.4h0M1014.8 1123.6h0M1014.8 1124.7h0M1014.8 1123.2h0M1015.1 1124.2h0M1015.2 1124.6h0M1015.4 1120.8h0M1015.4 1124.1h0M1015.6 1123.9h0M1015.7 1125.2h0M1016.1 1124.4h0M1016.3 1122.3h0M1016.5 1122.3h0M1016.7 1122.9h0M1017.1 1123.7h0M1017.2 1121.6h0M1017.3 1125h0M1017.4 1123h0M1017.5 1122.8h0M1017.6 1123.6h0M1017.6 1122.1h0M1017.7 1123.2h0M1017.8 1123.3h0M1018.1 1119.3h0M1018.6 1120.6h0M1018.6 1119.8h0M1018.7 1121.5h0M1018.9 1120h0M1019 1120.2h0M1019.1 1119.5h0M1019.1 1117.8h0M1019.2 1121.5h0M1019.3 1120.8h0M1019.9 1120.8h0M1019.9 1125.9h0M1020.4 1122.4h0M1020.4 1120.3h0M1020.9 1119h0M1021 1120.8h0M1021.1 1118.1h0M1022.4 1116.9h0M1022.5 1119.5h0M1022.6 1116.5h0M1022.9 1115.8h0M1023.7 1117.2h0M1024 1119.3h0M1024 1115.4h0M1024.4 1117.7h0M1024.6 1117.9h0M1024.9 1116.9h0M1025.1 1117.8h0M1025.3 1115.1h0M1025.6 1115.3h0M1026 1114.3h0M1026 1115.3h0M1026.1 1117.5h0M1026.8 1115.9h0M1026.8 1114.2h0M1026.8 1116.3h0M1027.2 1110.5h0M1027.6 1115.5h0M1027.6 1116h0M1027.7 1113.1h0M1027.9 1113.6h0M1028.3 1114.6h0M1028.4 1114.9h0M1028.7 1113.5h0M1028.8 1112.8h0M1029 1112.8h0M1029.3 1114.3h0M1029.6 1112.8h0M1029.8 1112h0M1030.2 1111.8h0M1030.6 1118.1h0M1030.7 1114.3h0M1030.7 1114.1h0M1031 1112.9h0M1031.1 1112.1h0M1031.2 1110.8h0M1031.2 1111.3h0M1031.6 1112.2h0M1031.8 1111.9h0M1032 1108.7h0M1032 1112.8h0M1032.1 1111.1h0M1032.5 1108.6h0M1032.8 1110.5h0M1032.9 1114.7h0M1033.3 1110.1h0M1033.4 1111.3h0M1033.6 1110.7h0M1033.8 1108.5h0M1034.1 1109.3h0M1034.5 1110.3h0M1034.6 1108.1h0M1034.7 1108.9h0M1034.8 1109.4h0M1034.8 1109h0M1035.2 1108.8h0M1035.5 1109.6h0M1036.2 1109.3h0M1036.3 1108.3h0M1036.6 1110h0M1036.7 1110.4h0M1037.1 1105.3h0M1037.2 1108.1h0M1037.3 1107.7h0M1037.4 1107.8h0M1037.6 1107.3h0M1037.7 1107.2h0M1037.9 1107h0M1038.3 1108.4h0M1038.6 1104.8h0M1038.9 1107.7h0M1039 1104.3h0M1039.4 1109.7h0M1039.9 1107.6h0M1040 1103.6h0M1040 1105.8h0M1040.1 1106.7h0M1040.2 1104.5h0M1040.5 1107.1h0M1041 1104.6h0M1041 1109.1h0M1041.3 1105.3h0M1041.5 1105.6h0M1041.6 1103.1h0M1042 1102.2h0M1042.1 1105.5h0M1042.1 1100.5h0M1042.3 1104.9h0M1043 1107.2h0M1043.1 1107.8h0M1043.2 1099.8h0M1043.3 1103h0M1044 1103.6h0M1044.5 1103.4h0M1044.5 1104.1h0M1044.6 1099h0M1044.6 1102h0M1044.7 1098h0M1044.8 1102h0M1044.9 1106.5h0M1045.2 1099.6h0M1045.2 1102.1h0M1045.4 1101.7h0M1045.5 1097.8h0M1045.7 1101.5h0M1045.7 1098.5h0M1045.9 1100.7h0M1046.1 1102.2h0M1046.2 1099.4h0M1046.3 1101.7h0M1046.4 1097.8h0M1046.7 1098.1h0M1047 1099.7h0M1047.3 1098.3h0M1047.3 1098.4h0M1047.5 1100.1h0M1047.6 1097.5h0M1047.6 1099.8h0M1047.7 1098h0M1048.3 1100.9h0M1048.4 1098.5h0M1048.4 1097.8h0M1048.7 1100.2h0M1048.7 1099.4h0M1049 1099.4h0M1049 1096.6h0M1049.2 1099.7h0M1050.2 1096.4h0M1050.7 1093.5h0M1050.7 1096.1h0M1050.8 1100.4h0M1051 1096.4h0M1051 1094.3h0M1051.2 1097.1h0M1051.3 1093.9h0M1051.4 1094.9h0M1051.7 1095.2h0M1051.7 1096.6h0M1052.1 1096.9h0M1052.2 1096.3h0M1052.4 1095.4h0M1052.8 1094h0M1053.4 1093.7h0M1053.4 1095.4h0M1053.7 1094.3h0M1053.7 1093.5h0M1053.8 1098.1h0M1054 1096.1h0M1054 1096.1h0M1054.1 1094.7h0M1054.2 1094.7h0M1054.2 1094.6h0M1054.3 1096h0M1054.3 1092.4h0M1054.6 1093.1h0M1054.8 1097.4h0M1054.8 1093.5h0M1054.9 1096.1h0M1055 1089.4h0M1055.1 1094.4h0M1055.3 1094.1h0M1055.4 1092.9h0M1055.7 1093.4h0M1055.9 1092.9h0M1056 1088.9h0M1056.3 1091.9h0M1056.8 1090h0M1056.9 1089.2h0M1057 1094.1h0M1057.1 1087.7h0M1057.2 1090h0M1057.3 1089.3h0M1057.3 1093.7h0M1057.5 1089.5h0M1057.5 1090.4h0M1057.5 1092.7h0M1058.1 1085.4h0M1058.2 1089.5h0M1058.3 1091.4h0M1058.3 1090.3h0M1058.5 1088.5h0M1058.5 1087.9h0M1058.7 1089.1h0M1058.7 1087.5h0M1059 1086.7h0M1059 1093.3h0M1059.2 1091.3h0M1059.6 1092.1h0M1059.7 1089.5h0M1059.8 1086.1h0M1059.8 1088h0M1059.8 1092.2h0M1060 1090.2h0M1060 1086.9h0M1060.8 1090.2h0M1061 1089h0M1061.1 1087.8h0M1061.2 1093.1h0M1061.3 1086.5h0M1061.4 1087.5h0M1061.8 1086.6h0M1061.9 1090.5h0M1062 1089.8h0M1062.2 1089.3h0M1062.3 1087.1h0M1062.3 1087.5h0M1062.3 1087.3h0M1062.6 1082.8h0M1063.1 1083.7h0M1063.3 1088.7h0M1063.4 1088.5h0M1063.6 1082.2h0M1063.7 1087.4h0M1063.9 1082.9h0M1063.9 1082.2h0M1063.9 1087.8h0M1063.9 1087.1h0M1064 1086.1h0M1064.1 1088.5h0M1064.2 1088.7h0M1065.1 1086.5h0M1065.1 1083.2h0M1065.1 1086.6h0M1065.2 1086h0M1065.6 1086.4h0M1065.6 1088.7h0M1065.6 1081.2h0M1065.8 1091.2h0M1065.8 1086.7h0M1066.1 1083.3h0M1066.3 1088.3h0M1066.4 1082.9h0M1066.4 1081.1h0M1066.7 1086.6h0M1066.7 1083.7h0M1067.1 1086.9h0M1067.5 1082.3h0M1067.7 1083.3h0M1067.7 1082.9h0M1067.8 1079.7h0M1068 1082h0M1068.1 1079.5h0M1068.2 1081.4h0M1068.5 1086.2h0M1068.6 1082.1h0M1068.7 1081.4h0M1068.8 1086.6h0M1069 1078.9h0M1069.1 1082.3h0M1069.1 1081.4h0M1069.3 1084.8h0M1069.4 1082.1h0M1069.4 1081.4h0M1070.2 1082.6h0M1070.2 1081.4h0M1070.3 1087.5h0M1070.5 1077.6h0M1070.7 1084.4h0M1070.9 1087.2h0M1071.1 1083.7h0M1071.1 1083.3h0M1071.5 1079.1h0M1072 1082.9h0M1072.1 1079.4h0M1072.2 1082.9h0M1072.4 1073.7h0M1072.7 1078.3h0M1072.9 1074.1h0M1072.9 1082.6h0M1073 1077.7h0M1073.1 1082.2h0M1073.2 1077.8h0M1073.4 1077.3h0M1073.9 1083.6h0M1074 1082.2h0M1074 1082.2h0M1074.4 1082.9h0M1074.6 1080.6h0M1074.6 1081.2h0M1075 1082.4h0M1075.1 1077.7h0M1075.2 1076.4h0M1075.2 1081.8h0M1075.5 1079.4h0M1075.7 1077.6h0M1076.1 1078h0M1076.1 1079.4h0M1076.2 1074.9h0M1076.3 1074.7h0M1076.5 1075.1h0M1076.6 1077.6h0M1076.6 1071.1h0M1076.9 1071.6h0M1077.1 1077.9h0M1077.1 1077h0M1077.3 1072.9h0M1077.8 1078.6h0M1078 1074.8h0M1078.1 1075.8h0M1078.1 1078.1h0M1078.1 1076.7h0M1078.1 1080.7h0M1078.2 1077.5h0M1078.8 1081.5h0M1079.1 1068.3h0M1079.6 1070.3h0M1079.8 1071h0M1079.9 1073.8h0M1080 1071.6h0M1080.1 1070.7h0M1080.6 1071.1h0M1080.6 1071.4h0M1081 1076.9h0M1081.2 1072.5h0M1081.2 1075.5h0M1081.4 1077.4h0M1081.4 1077.3h0M1081.8 1072.1h0M1082 1070h0M1082.1 1077.6h0M1082.2 1067.7h0M1082.5 1068.4h0M1082.6 1074.2h0M1082.6 1074.4h0M1082.7 1073.1h0M1083 1069.6h0M1083.1 1073.8h0M1083.2 1076.1h0M1083.3 1071.4h0M1083.7 1078.8h0M1083.9 1071.7h0M1083.9 1068.4h0M1084 1071.1h0M1084 1069.5h0M1084.1 1070.4h0M1084.2 1069.5h0M1084.3 1071.4h0M1084.4 1074.4h0M1084.7 1072.3h0M1085.2 1071.5h0M1085.3 1067.1h0M1085.6 1065.7h0M1085.6 1069.6h0M1086 1073.2h0M1086.2 1073h0M1086.3 1071.2h0M1086.5 1065.8h0M1086.7 1069.2h0M1086.7 1070.5h0M1086.8 1072.8h0M1086.9 1067.3h0M1087.2 1069.1h0M1087.6 1069.9h0M1087.7 1069.4h0M1088.2 1063.8h0M1088.3 1069.9h0M1088.8 1063.4h0M1088.8 1064.9h0M1089.1 1068.7h0M1089.3 1065.7h0M1090 1068.7h0M1090.3 1071h0M1090.5 1068.9h0M1090.8 1071h0M1090.9 1066h0M1091 1067.7h0M1091.2 1065.6h0M1091.3 1064.7h0M1092 1078h0M1092.3 1065.9h0M1092.4 1073.2h0M1092.6 1066.2h0M1092.8 1069.7h0M1093.8 1065.8h0M1093.8 1061.3h0M1093.8 1072.1h0M1094 1065.3h0M1094.3 1066.1h0M1094.4 1072.5h0M1094.4 1063.5h0M1094.4 1065.6h0M1094.4 1067.5h0M1094.8 1068.1h0M1094.9 1054h0M1095.2 1066.7h0M1095.3 1071.7h0M1095.5 1068.5h0M1095.6 1066.4h0M1095.8 1066.4h0M1096.2 1065h0M1096.2 1068.5h0M1097.2 1062.2h0M1097.4 1065.9h0M1097.5 1069h0M1097.5 1067h0M1098.3 1065h0M1098.4 1060.4h0M1098.5 1061.7h0M1098.6 1064.7h0M1098.8 1063.2h0M1098.9 1062.4h0M1099.2 1055.6h0M1099.4 1065.3h0M1099.6 1061.1h0M1099.8 1060.1h0M1100 1066.2h0M1100.1 1061.9h0M1100.2 1061.9h0M1100.2 1064.3h0M1100.4 1060.3h0M1100.5 1058.5h0M1101 1057.9h0M1101.3 1062.7h0M1101.9 1060.9h0M1101.9 1052.7h0M1102.1 1065.7h0M1102.2 1060.6h0M1102.3 1058h0M1102.5 1060.7h0M1102.7 1058.7h0M1102.8 1060.5h0M1102.8 1058.3h0M1102.8 1056.2h0M1103 1061.9h0M1103.1 1060.2h0M1103.3 1061.1h0M1104.1 1062h0M1104.2 1060.5h0M1104.4 1064.7h0M1104.4 1057.4h0M1104.6 1053.6h0M1104.6 1053.6h0M1104.7 1055.2h0M1105.4 1063.6h0M1106.1 1053.4h0M1106.3 1062.1h0M1106.4 1059.5h0M1106.6 1051.9h0M1106.8 1063.3h0M1106.8 1055.7h0M1107.1 1057.8h0M1107.2 1059.5h0M1107.2 1062.3h0M1108.3 1056.6h0M1108.3 1060.2h0M1108.7 1053.9h0M1109 1053h0M1109.1 1063.4h0M1109.2 1059.9h0M1109.6 1058.9h0M1109.7 1062.4h0M1109.7 1062.1h0M1110.5 1056.8h0M1110.6 1058h0M1110.8 1063.8h0M1111 1059.1h0M1111.4 1054.6h0M1111.7 1061.6h0M1112 1060.2h0M1112.1 1049.8h0M1112.2 1050.9h0M1112.2 1063h0M1112.3 1061.9h0M1112.5 1054.6h0M1112.6 1061.1h0M1113 1057h0M1113 1057.8h0M1113.5 1053.3h0M1113.9 1066.1h0M1114.1 1064.6h0M1114.3 1060.4h0M1114.5 1050.9h0M1114.6 1055.8h0M1115.2 1062.1h0M1115.5 1052.6h0M1115.6 1051.6h0M1115.6 1055.7h0M1116.3 1055.7h0M1116.3 1052.4h0M1116.4 1049.1h0M1116.8 1053.4h0M1116.9 1051.7h0M1116.9 1054.2h0M1116.9 1055.6h0M1117 1057.9h0M1117.4 1052.6h0M1117.8 1054.9h0M1117.9 1054.6h0M1118.9 1048.9h0M1119.3 1050.7h0M1119.7 1048.8h0M1120 1059.4h0M1120 1050h0M1120.8 1054.7h0M1121.1 1055.6h0M1121.8 1055.4h0M1122 1046.1h0M1122.9 1047.3h0M1123.2 1054.2h0M1123.3 1056.1h0M1123.3 1050.8h0M1123.5 1052.9h0M1123.8 1043.1h0M1124.1 1057.1h0M1124.2 1058.8h0M1124.2 1051.6h0M1124.2 1050.4h0M1124.3 1049.8h0M1124.4 1046.9h0M1124.6 1040.8h0M1125.2 1051.5h0M1125.7 1052.2h0M1125.8 1057.8h0M1126 1048.5h0M1126.1 1045.6h0M1126.2 1050.7h0M1126.2 1044h0M1126.3 1049.3h0M1126.3 1042.4h0M1127.1 1047.5h0M1127.2 1053.9h0M1127.3 1051.9h0M1127.4 1056.1h0M1127.7 1056.9h0M1127.7 1047.5h0M1127.8 1044.7h0M1128.1 1039.4h0M1128.1 1048.8h0M1128.3 1049.6h0M1128.4 1053.7h0M1128.7 1043.6h0M1128.8 1046.4h0M1128.9 1051h0M1128.9 1044.9h0M1129.1 1045.4h0M1129.6 1056.7h0M1130 1044.1h0M1130.3 1046.9h0M1130.4 1049.3h0M1131 1049.2h0M1131.3 1038.6h0M1131.5 1039.6h0M1131.8 1038h0M1132.2 1052.2h0M1132.2 1049.8h0M1132.3 1042.1h0M1132.6 1052.3h0M1132.8 1049.8h0M1133.1 1055h0M1133.1 1037.1h0M1133.2 1040.9h0M1133.3 1043.8h0M1133.4 1044.9h0M1133.5 1048h0M1133.8 1047.8h0M1134 1042.7h0M1134.1 1049.2h0M1134.6 1039.4h0M1134.8 1047.8h0M1134.9 1049.6h0M1134.9 1038.9h0M1134.9 1046h0M1135 1042.5h0M1135.6 1047h0M1135.6 1056.1h0M1135.8 1042.1h0M1136.4 1051.3h0M1136.5 1039.1h0M1136.6 1052.2h0M1136.8 1053.7h0M1136.8 1042.8h0M1137 1042.1h0M1137.1 1043.7h0M1137.2 1050.2h0M1137.5 1039.6h0M1137.8 1051.3h0M1138 1046.1h0M1138.7 1047.5h0M1138.8 1045.3h0M1139.2 1038.8h0M1139.5 1046.3h0M1139.8 1040h0M1140 1039.2h0M1140.7 1051.2h0M1140.8 1048.4h0M1141 1044.3h0M1141.3 1045.2h0M1141.5 1040.5h0M1141.6 1052h0M1141.9 1038.1h0M1142.2 1037.8h0M1142.4 1042.5h0M1142.5 1048.7h0M1142.6 1041.4h0M1142.7 1044.2h0M1142.9 1038.3h0M1142.9 1041.7h0M1143.3 1037.3h0M1143.8 1043.1h0M1143.9 1033.2h0M1143.9 1052.9h0M1144.2 1046h0M1144.3 1038h0M1145.8 1047.9h0M1146 1035.7h0M1146.2 1046.1h0M1146.3 1039h0M1146.6 1044.3h0M1146.6 1041.7h0M1146.7 1038.4h0M1147.2 1039.6h0M1147.4 1041h0M1147.8 1027.1h0M1148.3 1038.4h0M1148.6 1043.6h0M1148.8 1033.1h0M1149.2 1033.5h0M1150 1030.9h0M1150.2 1027.6h0M1150.4 1042.5h0M1150.8 1031.3h0M1150.9 1030.7h0M1151.3 1036.9h0M1151.3 1035.5h0M1151.3 1053.5h0M1151.4 1040h0M1151.5 1026.8h0M1151.6 1046.6h0M1151.8 1039.6h0M1151.8 1035h0M1152 1033.3h0M1152.1 1027.3h0M1152.2 1046.2h0M1152.9 1035.8h0M1153.4 1030.9h0M1153.6 1043h0M1153.6 1035.8h0M1153.6 1025h0M1153.8 1028.1h0M1154.4 1032.1h0M1154.4 1049.9h0M1154.5 1035.9h0M1155.5 1032.4h0M1155.8 1036.2h0M1155.9 1034.8h0M1156.2 1016.6h0M1156.4 1035.3h0M1156.5 1039.6h0M1157.5 1032.1h0M1157.6 1035.3h0M1157.7 1035.2h0M1157.9 1033.8h0M1157.9 1028.8h0M1157.9 1031.9h0M1158.1 1040.1h0M1158.4 1033.8h0M1159.5 1029.7h0M1159.8 1035h0M1159.9 1025.5h0M1160 1027.6h0M1160.2 1037.9h0M1160.3 1030.2h0M1160.3 1020.3h0M1160.7 1022.6h0M1160.8 1032.1h0M1161.1 1026.3h0M1161.2 1035.5h0M1161.6 1039.9h0M1161.6 1028.1h0M1162.1 1029.6h0M1162.2 1028h0M1162.2 1031.2h0M1162.3 1029.1h0M1162.3 1034.1h0M1162.4 1028.1h0M1162.6 1025.9h0M1162.8 1031.1h0M1163.4 1025.6h0M1163.4 1041h0M1163.6 1035h0M1164 1021.4h0M1164.1 1019.5h0M1164.3 1028.5h0M1164.6 1030.4h0M1164.9 1037.3h0M1165 1027.4h0M1165.5 1024.7h0M1165.6 1038.3h0M1165.7 1025.9h0M1165.7 1026.3h0M1165.9 1026.5h0M1166.1 1035.9h0M1166.3 1025.7h0M1166.4 1038.1h0M1166.4 1019.8h0M1166.5 1028h0M1167.1 1035.7h0M1167.2 1020.2h0M1167.3 1021.4h0M1167.4 1032.4h0M1169.2 1013.9h0M1169.8 1033.5h0M1169.9 1025.3h0M1170 1019.8h0M1170.4 1041.2h0M1170.5 1020.7h0M1170.5 1027.3h0M1170.9 1026.9h0M1171.7 1033.2h0M1171.9 1024.2h0M1172.1 1033.3h0M1172.3 1032.3h0M1172.4 1028.9h0M1172.4 1033.9h0M1172.5 1016.1h0M1172.6 1034.4h0M1172.7 1030.7h0M1172.8 1027.9h0M1173.5 1025.6h0M1173.5 1020.5h0M1173.9 1020.2h0M1174.1 1027.3h0M1174.5 1027.6h0M1174.9 1024.8h0M1175 1019.6h0M1175.5 1020.2h0M1175.6 1028h0M1176.4 1037.7h0M1176.6 1010.3h0M1178 1017.5h0M1178.9 1021.6h0M1179.1 1021h0M1179.1 1026.7h0M1179.6 1029.7h0M1179.9 1025.2h0M1180 1024.4h0M1180.3 1027h0M1180.5 1032.5h0M1180.8 1024.7h0M1181.1 1018.7h0M1181.4 1025.8h0M1181.7 1022.2h0M1181.7 1036.2h0M1181.7 1023.7h0M1181.8 1023.1h0M1181.8 1030.5h0M1181.9 1033.9h0M1182.5 1019.3h0M1183.2 1027.3h0M1183.3 1018.5h0M1183.3 1024.7h0M1184 1017.4h0M1184.2 1023.8h0M1184.3 1031.7h0M1184.5 1022h0M1185.2 1023.5h0M1185.3 1016.7h0M1185.4 1024.2h0M1185.6 1023.8h0M1186.2 1015h0M1186.6 1012.8h0M1187.1 1015.4h0M1187.5 1013.4h0M1188.4 1017.2h0M1188.7 1014.9h0M1189.7 1013.9h0M1189.7 1017.2h0M1189.8 1019.6h0M1189.9 1019h0M1190 1003.1h0M1190.1 1019.9h0M1190.2 1021.6h0M1190.6 1022.4h0M1191.3 1019.9h0M1191.3 1018h0M1191.7 1027.6h0M1191.8 1033.7h0M1192.3 1017.4h0M1192.3 1030.9h0M1192.4 1017.6h0M1192.4 1018.5h0M1192.5 1011.2h0M1193 1007.4h0M1193.5 1016.6h0M1193.6 1023.2h0M1193.7 1027.6h0M1193.8 1024.9h0M1193.9 1018.9h0M1194 1034h0M1194.3 1018.6h0M1194.4 1019.2h0M1195.2 1014.3h0M1195.3 1021.4h0M1195.3 1018.2h0M1195.7 1024.2h0M1195.9 1022.2h0M1196.2 1031.7h0M1196.3 1017.9h0M1196.5 1007.4h0M1196.7 1017.5h0M1196.8 1016h0M1196.9 1025.8h0M1197 1008.2h0M1197.5 1024.2h0M1197.7 1012.6h0M1197.8 1017.7h0M1197.8 1025.6h0M1197.9 1011h0M1198 1018.4h0M1198.2 1017.1h0M1198.5 1015.1h0M1198.5 1018.6h0M1198.7 1021.2h0M1198.7 1014.9h0M1199 1021.3h0M1199.1 1017.8h0M1199.2 1023.3h0M1199.3 1029.3h0M1199.6 1023.2h0M1199.9 1021.9h0M1200.1 1018.1h0M1200.4 1009.3h0M1200.6 1030.7h0M1200.9 1017.1h0M1201.2 1034.6h0M1201.2 1025.9h0M1201.2 1021.8h0M1201.4 1034.9h0M1201.4 1031.9h0M1201.4 1016.8h0M1201.6 1017.4h0M1201.6 1018.8h0M1201.8 1024h0M1201.9 1001.7h0M1202.2 1019.1h0M1202.4 1024.4h0M1202.5 1005.2h0M1202.7 1013.2h0M1203.1 1020.6h0M1203.5 1008.7h0M1203.6 1016.5h0M1203.9 1012.8h0M1203.9 1015.9h0M1204.1 1025.5h0M1204.3 1010.2h0M1204.6 1016.4h0M1204.8 1025.3h0M1205 1023.4h0M1205.5 1010.2h0M1205.5 1020.3h0M1205.8 1017.1h0M1205.9 1012.4h0M1206.1 1016.4h0M1206.1 1029.1h0M1206.2 1012.5h0M1206.2 1010.2h0M1206.6 1010.7h0M1206.7 1004.9h0M1207 1014.5h0M1207.2 1011.3h0M1207.5 1004.9h0M1207.6 1019.5h0M1207.6 1003.8h0M1207.7 1003.7h0M1207.8 1011.1h0M1207.9 1002.9h0M1208 1010.5h0M1208.1 1024h0M1208.2 1008.3h0M1208.6 1014.5h0M1209.1 1013.8h0M1209.1 1015.8h0M1209.6 1006.3h0M1209.6 1012.6h0M1209.7 1022.4h0M1210 1013.1h0M1210.1 1011.2h0M1210.2 1022.6h0M1210.4 1020.3h0M1210.4 1019.9h0M1210.7 1021.6h0M1211 1014h0M1211.2 1008.7h0M1211.5 1001.7h0M1211.5 1007.3h0M1211.7 1008.6h0M1212.7 1007.5h0M1213.1 1005.9h0M1213.2 1019.5h0M1213.3 1010.9h0M1213.3 1013.9h0M1213.3 1017.5h0M1213.4 1020.1h0M1213.4 1020.5h0M1213.8 1018.6h0M1214.2 1026.3h0M1214.2 1012.2h0M1214.4 1016.5h0M1214.6 1015.4h0M1214.8 1013.5h0M1214.9 1010.4h0M1215.3 1020.9h0M1215.4 1017h0M1215.5 1029.1h0M1215.8 1034h0M1215.9 1031.7h0M1216.8 1003.6h0M1217.3 1030.6h0M1217.3 1012.1h0M1217.8 1003.9h0M1218 1019.4h0M1218.1 1002.6h0M1218.3 1000.8h0M1218.3 1008.1h0M1218.5 996.6h0M1218.6 1010.6h0M1219 1021.4h0M1219.1 1011.4h0M1219.2 1019.1h0M1219.4 1026h0M1219.5 1025.7h0M1219.7 996.8h0M1221 1019.5h0M1221 1015.3h0M1221.3 1020.4h0M1221.4 1014h0M1221.5 1016.9h0M1221.6 1018.3h0M1221.6 1024.8h0M1222 1026.3h0M1222 1020.9h0M1222 1012.5h0M1222.1 998.2h0M1222.3 1006.4h0M1222.6 1000.1h0M1222.7 1010.8h0M1222.7 1015.4h0M1222.8 1025.4h0M1223.3 1014.6h0M1223.5 1031.8h0M1223.7 1016.9h0M1223.8 1001.3h0M1224 1011.8h0M1224.2 1005.3h0M1224.7 1017.3h0M1225.1 1025.2h0M1226.2 1017.7h0M1226.6 1016.9h0M1227.1 1003.9h0M1227.5 997.6h0M1227.7 1019.4h0M1227.8 1016.3h0M1228.1 1014.5h0M1228.7 1015.9h0M1228.7 1023.1h0M1228.8 1012.3h0M1229 1010.1h0M1229.2 1009.8h0M1229.6 1022.5h0M1230.4 1013.5h0M1230.5 1026.5h0M1230.6 1005.1h0M1231 1020.5h0M1231 1014.5h0M1231 1015.9h0M1231.2 1017h0M1231.2 1020.8h0M1231.3 1026.4h0M1231.7 998.1h0M1232 1009.9h0M1232 1009.8h0M1232 995.1h0M1233 1012.3h0M1233.3 1006.8h0M1234.1 1010.3h0M1234.5 1000.5h0M1234.8 1005.7h0" stroke="#008000" stroke-width="4.4" stroke-linecap="round" fill="none" opacity="0.85"/>
<path d="M1237.8 1004.1 1241.3 1003.5 1244.8 1005 1248.3 1006.6 1251.7 1008.2 1255.2 1009.7 1258.7 1010.9 1262.2 1009.6 1265.7 1008.4 1269.2 1007.2 1272.7 1006 1276.2 1006.9 1279.6 1008.5 1283.1 1010.1 1286.6 1011.6 1290.1 1013 1293.6 1013.4 1297.1 1012.2 1300.6 1011.1 1304 1010.1 1307.5 1009.5 1311 1011.6 1314.5 1013.8 1318 1016 1321.5 1018.2 1325 1020.5 1328.4 1021.2 1331.9 1021.1 1335.4 1021 1338.9 1020.9 1342.4 1021.6 1345.9 1024.2 1349.4 1026.7 1352.9 1029.3 1356.3 1032 1359.8 1034.6 1363.3 1035.1 1366.8 1035.4 1370.3 1035.7 1373.8 1036.1 1377.3 1037.5 1380.7 1040.2 1384.2 1042.8 1387.7 1045.4 1391.2 1047.9 1394.7 1050.1 1398.2 1050.4 1401.7 1050.7 1405.1 1051.1 1408.6 1051.5 1412.1 1053.7 1415.6 1056.5 1419.1 1059.4 1422.6 1062.5 1426.1 1065.7 1429.6 1068.2 1433 1069.7 1436.5 1071.2 1440 1072.9 1443.5 1074.6 1447 1078.3 1450.5 1082 1454 1085.7 1457.4 1089.5 1460.9 1093.4 1464.4 1096.2 1467.9 1098.3 1471.4 1100.5 1474.9 1102.7 1478.4 1105.3 1481.8 1109.2 1485.3 1112.9 1488.8 1116.6 1492.3 1120.2 1495.8 1123.8 1499.3 1125.7 1502.8 1127.4 1506.3 1129.1 1509.7 1130.7 1513.2 1133.2 1516.7 1136.5 1520.2 1139.8 1523.7 1143 1527.2 1146.2 1530.7 1149 1534.1 1150.3 1537.6 1151.6 1541.1 1152.7 1544.6 1153.9 1548.1 1156.3 1551.6 1159 1555.1 1161.8 1558.5 1164.6 1562 1167.5 1565.5 1169.8 1569 1171.1 1572.5 1172.7 1576 1174.3 1579.5 1175.9 1583 1179.2 1586.4 1182.4 1589.9 1185.6 1593.4 1188.6 1596.9 1191.4 1600.4 1193.1 1603.9 1194.1 1607.4 1195 1610.8 1195.9 1614.3 1197.1 1617.8 1199.5 1621.3 1201.9 1624.8 1204.3 1628.3 1206.9 1631.8 1209.5 1635.2 1210.8 1638.7 1212 1642.2 1213.2 1645.7 1214.4 1649.2 1216.3 1652.7 1218.7 1656.2 1221.1 1659.7 1223.5 1663.1 1225.9 1666.6 1228 1670.1 1228.9 1673.6 1229.8 1677.1 1230.7 1680.6 1231.5 1684.1 1233.4 1687.5 1235.6 1691 1237.8 1694.5 1239.9 1698 1242 1701.5 1243.6 1705 1244.4 1708.5 1245.2 1711.9 1246 1715.4 1246.8 1718.9 1248.9 1722.4 1251 1725.9 1253 1729.4 1255 1732.9 1257 1736.4 1258.2 1739.8 1259 1743.3 1259.7 1746.8 1260.4 1750.3 1261.4 1753.8 1263.3 1757.3 1265.1 1760.8 1266.9 1764.2 1268.7 1767.7 1270.4 1771.2 1271 1774.7 1271.5 1778.2 1271.9 1781.7 1272.4 1785.2 1273.4 1788.6 1274.9 1792.1 1276.4 1795.6 1277.9 1799.1 1279.3 1802.6 1280.6 1806.1 1281 1809.6 1281.5 1813.1 1281.9 1816.5 1282.4 1820 1283.6 1823.5 1285.2 1827 1286.8 1830.5 1288.4 1834 1290 1837.5 1291.3 1840.9 1291.8 1844.4 1292.4 1847.9 1292.8 1851.4 1293.2" stroke="#14a050" stroke-width="4.2" fill="none" stroke-linejoin="round"/>
<path d="M1851.4 1293.4 1854.9 1294.3 1858.4 1295.7 1861.9 1297.3 1865.3 1296.7 1868.8 1298.7 1872.3 1299 1875.8 1299.3 1879.3 1298.6 1882.8 1300.2 1886.3 1299.8 1889.8 1301 1893.2 1301.7 1896.7 1302 1900.2 1303.5 1903.7 1303.6 1907.2 1304.4 1910.7 1304.9 1914.2 1305.4 1917.6 1305.8 1921.1 1306.3 1924.6 1308.3 1928.1 1308.3 1931.6 1308.4 1935.1 1309.5 1938.6 1310.3 1942 1310.9 1945.5 1311.1 1949 1311.5 1952.5 1313.2 1956 1313.1" stroke="#14a050" stroke-width="5.0" fill="none" stroke-linejoin="round"/>
<path d="M1956 1312.9 1959.5 1313.7 1963 1314.5 1966.5 1316 1969.9 1316.2 1973.4 1317.1 1976.9 1315.4 1980.4 1317.5 1983.9 1318.3 1987.4 1319.2 1990.9 1318.8 1994.3 1318.4 1997.8 1320.1 2001.3 1319.9 2004.8 1319.8 2008.3 1320.8 2011.8 1322 2015.3 1322.5 2018.7 1322.7 2022.2 1322.3 2025.7 1324.4 2029.2 1323 2032.7 1324 2036.2 1323.7 2039.7 1325.5 2043.2 1325.5 2046.6 1326.1 2050.1 1326.1 2053.6 1326.5 2057.1 1327.1 2060.6 1326.5" stroke="#14a050" stroke-width="6.0" fill="none" stroke-linejoin="round"/>
<path d="M2060.6 1327.9 2064.1 1328.3 2067.6 1328.1 2071 1328.8 2074.5 1329.4 2078 1330.4 2081.5 1330.3 2085 1330.5 2088.5 1330.6 2092 1330.5 2095.4 1331.3 2098.9 1332 2102.4 1332.1 2105.9 1332.6 2109.4 1333.2 2112.9 1333.2 2116.4 1333.4 2119.9 1333.8 2123.3 1333.8 2126.8 1333.9 2130.3 1334.3 2133.8 1333.4 2137.3 1335.1 2140.8 1334 2144.3 1335.2 2147.7 1335 2151.2 1335.7 2154.7 1335.3 2158.2 1335 2161.7 1336.1 2165.2 1335.8 2168.7 1335.8 2172.1 1335.9 2175.6 1336.4 2179.1 1336.4 2182.6 1336.1" stroke="#14a050" stroke-width="7.0" fill="none" stroke-linejoin="round"/>
<path d="M266.5 1351.1 267.9 1352.3 269.3 1352.8 270.7 1351.6 272.1 1350.4 273.5 1350 274.9 1351.3 276.3 1350.2 277.7 1350.3 279.1 1350.6 280.4 1349.2 281.8 1351.4 283.2 1351 284.6 1350.5 286 1349.8 287.4 1351.1 288.8 1352.2 290.2 1350.4 291.6 1350.1 293 1348.7 294.4 1347 295.8 1346.5 297.2 1348.1 298.6 1348 300 1348.4 301.4 1348.2 302.8 1349.1 304.2 1348.6 305.5 1348.4 306.9 1348.5 308.3 1349.6 309.7 1349.9 311.1 1349.9 312.5 1349.8 313.9 1343.5 315.3 1345.6 316.7 1346.3 318.1 1346.8 319.5 1345.2 320.9 1348 322.3 1347.1 323.7 1346.3 325.1 1347 326.5 1346.6 327.9 1346.3 329.3 1347.5 330.6 1346.7 332 1345.9 333.4 1346.6 334.8 1347.1 336.2 1343.5 337.6 1345.7 339 1343.6 340.4 1346.2 341.8 1345.5 343.2 1343.9 344.6 1344.9 346 1345.9 347.4 1344.7 348.8 1343.8 350.2 1345 351.6 1346.8 353 1343.7 354.4 1345.6 355.8 1345.1 357.1 1342.2 358.5 1342 359.9 1342.1 361.3 1343.4 362.7 1343 364.1 1341.6 365.5 1344 366.9 1341.4 368.3 1343.2 369.7 1342.8 371.1 1343.8 372.5 1343.1 373.9 1343.7 375.3 1342.8 376.7 1343.7 378.1 1343.2 379.5 1342.1 380.9 1339.5 382.2 1341.3 383.6 1340.7 385 1340.4 386.4 1339.8 387.8 1340.7 389.2 1339 390.6 1339.2 392 1341.1 393.4 1339.1 394.8 1341.8 396.2 1340.2 397.6 1340.7 399 1340.6 400.4 1338.1 401.8 1337.5 403.2 1337.4 404.6 1337.7 406 1338.7 407.3 1338.8 408.7 1339 410.1 1338.1 411.5 1337.6 412.9 1336.3 414.3 1338.4 415.7 1338.6 417.1 1337.5 418.5 1338.6 419.9 1339 421.3 1337.9 422.7 1336 424.1 1335.3 425.5 1333.5 426.9 1334.7 428.3 1334.7 429.7 1335.6 431.1 1334.3 432.5 1334.7 433.8 1334.3 435.2 1335.1 436.6 1335.2 438 1336 439.4 1335.9 440.8 1335.4 442.2 1335.4 443.6 1332.6 445 1332.6 446.4 1333.9 447.8 1330.3 449.2 1332.4 450.6 1332.9 452 1333.7 453.4 1331.7 454.8 1333 456.2 1333.5 457.6 1332.4 458.9 1331.1 460.3 1332.6 461.7 1331.8 463.1 1333.6 464.5 1332.2 465.9 1331.9 467.3 1330.4 468.7 1329.6 470.1 1329.9 471.5 1329.4 472.9 1330.8 474.3 1331.8 475.7 1330.3 477.1 1331.4 478.5 1329.7 479.9 1330.9 481.3 1332.7 482.7 1329.4 484 1331.7 485.4 1331.7 486.8 1326.2 488.2 1326.6 489.6 1327 491 1328.7 492.4 1327.5 493.8 1327.7 495.2 1328.4 496.6 1327.9 498 1327.9 499.4 1327.4 500.8 1328.7 502.2 1326.9 503.6 1329.1 505 1327.2 506.4 1326.7 507.8 1328 509.2 1324.9 510.5 1322.6 511.9 1324.5 513.3 1323 514.7 1323.4 516.1 1324.8 517.5 1323.2 518.9 1324.2 520.3 1323.4 521.7 1325.4 523.1 1323.5 524.5 1322.4 525.9 1322.4 527.3 1322.4 528.7 1323.3 530.1 1320.2 531.5 1321 532.9 1320.1 534.3 1320 535.6 1320.1 537 1319.5 538.4 1319.8 539.8 1320.1 541.2 1320 542.6 1318.7 544 1317.5 545.4 1318.2 546.8 1319.1 548.2 1316.5 549.6 1318.2 551 1318.9 552.4 1315 553.8 1314.4 555.2 1316.9 556.6 1316.4 558 1314.8 559.4 1316.1 560.7 1316 562.1 1313.7 563.5 1317 564.9 1313.6 566.3 1314.1 567.7 1313.2 569.1 1314.1 570.5 1312.7 571.9 1313.8 573.3 1311.8 574.7 1310.9 576.1 1310.3 577.5 1311.8 578.9 1309.4 580.3 1311 581.7 1309.7 583.1 1310 584.5 1309.7 585.9 1309.6 587.2 1309.3 588.6 1308.5 590 1308.5 591.4 1309.2 592.8 1308.6 594.2 1307.4 595.6 1304.9 597 1304.7 598.4 1305.1 599.8 1305.1 601.2 1304.9 602.6 1304 604 1304.4 605.4 1303 606.8 1301.4 608.2 1303.8 609.6 1302.1 611 1302.5 612.3 1302.1 613.7 1303.5 615.1 1301.6 616.5 1299.9 617.9 1299 619.3 1298.1 620.7 1297.5 622.1 1299.1 623.5 1298.8 624.9 1298.9 626.3 1299.5 627.7 1297.9 629.1 1297.6 630.5 1296.9 631.9 1296.8 633.3 1296.1 634.7 1295.3 636.1 1297.6 637.4 1293.9 638.8 1292.7 640.2 1292.5 641.6 1292 643 1290.6 644.4 1291 645.8 1290.5 647.2 1289.6 648.6 1290.2 650 1289.6 651.4 1289.1 652.8 1289.9 654.2 1288 655.6 1289.1 657 1287.8 658.4 1288.4 659.8 1285 661.2 1284.9 662.6 1283.5 663.9 1283.3 665.3 1283 666.7 1283.6 668.1 1283.8 669.5 1283.8 670.9 1282.1 672.3 1282.3 673.7 1280.5 675.1 1279.7 676.5 1280.6 677.9 1280.5 679.3 1279.4 680.7 1278.9 682.1 1277.9 683.5 1276.4 684.9 1275.3 686.3 1278.6 687.7 1276.3 689 1275.6 690.4 1276.2 691.8 1274.6 693.2 1276.3 694.6 1273.2 696 1273.1 697.4 1273.8 698.8 1272.9 700.2 1274.5 701.6 1271.4 703 1269.1 704.4 1269.6 705.8 1269.5 707.2 1269.5 708.6 1268.5 710 1269.8 711.4 1267 712.8 1267.1 714.1 1267.3 715.5 1265.8 716.9 1265.4 718.3 1264.8 719.7 1264.1 721.1 1263.2 722.5 1263.2 723.9 1261.8 725.3 1260.2 726.7 1257.9 728.1 1260.7 729.5 1259.8 730.9 1258.7 732.3 1257 733.7 1256.1 735.1 1257.1 736.5 1255.6 737.9 1255.4 739.3 1253.6 740.6 1254.6 742 1252.4 743.4 1252.6 744.8 1250.4 746.2 1247.9 747.6 1248.4 749 1246.9 750.4 1246.3 751.8 1246.8 753.2 1245.5 754.6 1246.1 756 1242.2 757.4 1244.3 758.8 1243.7 760.2 1241.3 761.6 1240.9 763 1242.3 764.4 1240 765.7 1239.9 767.1 1240.4 768.5 1236.2 769.9 1236.4 771.3 1234.6 772.7 1235.1 774.1 1235.3 775.5 1234 776.9 1231.2 778.3 1233.2 779.7 1232.1 781.1 1230.7 782.5 1232.2 783.9 1228.8 785.3 1231.4 786.7 1228.6 788.1 1230 789.5 1225.1 790.8 1223.4 792.2 1224 793.6 1223.7 795 1223.2 796.4 1223.1 797.8 1220.7 799.2 1221.4 800.6 1221 802 1219.5 803.4 1218.3 804.8 1217.7 806.2 1218.6 807.6 1218 809 1216 810.4 1214.9 811.8 1213.8 813.2 1210.7 814.6 1211.6 816 1210.2 817.3 1208.7 818.7 1209.8 820.1 1208.9 821.5 1209.7 822.9 1209.9 824.3 1207 825.7 1207.5 827.1 1206.9 828.5 1204.9 829.9 1204 831.3 1205.6 832.7 1200.4 834.1 1200.1 835.5 1199.2 836.9 1198.7 838.3 1197.7 839.7 1198.2 841.1 1198.1 842.4 1196 843.8 1194.4 845.2 1195.1 846.6 1193.1 848 1193.2 849.4 1194.2 850.8 1194.5 852.2 1192.2 853.6 1190.2 855 1188.4 856.4 1185.1 857.8 1185.8 859.2 1187.1 860.6 1185.8 862 1183.2 863.4 1182.3 864.8 1183.9 866.2 1182.4 867.5 1181.2 868.9 1181.5 870.3 1179.9 871.7 1178 873.1 1179.8 874.5 1177.8 875.9 1174 877.3 1173 878.7 1173.7 880.1 1172.1 881.5 1172.7 882.9 1171.2 884.3 1171.7 885.7 1169.7 887.1 1168.7 888.5 1166.8 889.9 1166.9 891.3 1167.8 892.7 1169.2 894 1164.6 895.4 1164 896.8 1164.5 898.2 1161.1 899.6 1159.3 901 1159.3 902.4 1157 903.8 1157.4 905.2 1157.8 906.6 1157.6 908 1155.3 909.4 1154.4 910.8 1154.3 912.2 1154.1 913.6 1152.8 915 1150.9 916.4 1151.1 917.8 1150.8 919.1 1145.7 920.5 1144.3 921.9 1145.1 923.3 1144.1 924.7 1143.8 926.1 1142.1 927.5 1140.5 928.9 1139.8 930.3 1138.4 931.7 1137.5 933.1 1136.9 934.5 1136.1 935.9 1136.6 937.3 1133.5 938.7 1133.6 940.1 1132.2 941.5 1130.3 942.9 1128.3 944.2 1126.8 945.6 1126.9 947 1125.3 948.4 1123.8 949.8 1124.7 951.2 1123 952.6 1123 954 1121.6 955.4 1120.3 956.8 1118.8 958.2 1116.9 959.6 1117.6 961 1116.1 962.4 1113 963.8 1111.5 965.2 1110.1 966.6 1109 968 1109.7 969.4 1109.4 970.7 1107.2 972.1 1107.1 973.5 1107.1 974.9 1104.3 976.3 1104 977.7 1102.5 979.1 1103.8 980.5 1102.2 981.9 1100.8 983.3 1099 984.7 1096.8 986.1 1097.1 987.5 1095.2 988.9 1094.3 990.3 1094.5 991.7 1092 993.1 1092.4 994.5 1092.1 995.8 1090.1 997.2 1089.3 998.6 1089.5 1000 1088.4 1001.4 1087.5 1002.8 1087 1004.2 1086.2 1005.6 1081.6 1007 1081 1008.4 1081.1 1009.8 1080.8 1011.2 1080.2 1012.6 1077.3 1014 1078.1 1015.4 1076.9 1016.8 1075.3 1018.2 1074.8 1019.6 1074.1 1020.9 1074 1022.3 1070.5 1023.7 1070.9 1025.1 1069.3 1026.5 1068.2 1027.9 1065.5 1029.3 1064.2 1030.7 1061.5 1032.1 1061.1 1033.5 1060.5 1034.9 1057.9 1036.3 1058.9 1037.7 1057 1039.1 1056.1 1040.5 1055.1 1041.9 1055.3 1043.3 1052.6 1044.7 1051.2 1046.1 1051.9 1047.4 1048.8 1048.8 1044.9 1050.2 1043 1051.6 1044 1053 1042.2 1054.4 1041.2 1055.8 1039.8 1057.2 1038.5 1058.6 1036.8 1060 1035.6 1061.4 1035.6 1062.8 1034.2 1064.2 1034.4 1065.6 1031.2 1067 1030.3 1068.4 1028.8 1069.8 1029.8 1071.2 1023.6 1072.5 1024.3 1073.9 1023.9 1075.3 1021.4 1076.7 1021.1 1078.1 1017.5 1079.5 1018 1080.9 1015.9 1082.3 1016.5 1083.7 1015.4 1085.1 1013.7 1086.5 1014.2 1087.9 1012.8 1089.3 1011 1090.7 1010.1 1092.1 1005.5 1093.5 1005.7 1094.9 1006.8 1096.3 1003.4 1097.6 1003.4 1099 1001.6 1100.4 1001.9 1101.8 1000.7 1103.2 999.1 1104.6 996.8 1106 997.1 1107.4 997.7 1108.8 995.5 1110.2 995.4 1111.6 993.5 1113 991.4 1114.4 989.7 1115.8 988.8 1117.2 987.1 1118.6 986.4 1120 986.2 1121.4 984.6 1122.8 984.6 1124.1 983.3 1125.5 980.5 1126.9 981.7 1128.3 980.5 1129.7 979.6 1131.1 979.9 1132.5 978.4 1133.9 978.6 1135.3 975.6 1136.7 974 1138.1 971.8 1139.5 971.9 1140.9 972.7 1142.3 971 1143.7 969.9 1145.1 969.8 1146.5 969.7 1147.9 968.9 1149.2 968.6 1150.6 966.7 1152 966.5 1153.4 965.9 1154.8 965.6 1156.2 963.1 1157.6 961.4 1159 959.8 1160.4 961.7 1161.8 961.3 1163.2 960.8 1164.6 959.5 1166 957.8 1167.4 958.6 1168.8 957 1170.2 957.2 1171.6 955.4 1173 955.2 1174.3 955.6 1175.7 956.3 1177.1 954.3 1178.5 953.1 1179.9 953.1 1181.3 949.1 1182.7 949.8 1184.1 948.6 1185.5 948.9 1186.9 948.2 1188.3 948.2 1189.7 948.9 1191.1 948.6 1192.5 947.7 1193.9 947.3 1195.3 947.2 1196.7 947 1198.1 947.3 1199.5 946.6 1200.8 944.2 1202.2 942.4 1203.6 944.2 1205 944.9 1206.4 943.4 1207.8 941.9 1209.2 944.3 1210.6 942.6 1212 940.1 1213.4 942.5 1214.8 943 1216.2 942.6 1217.6 943.2 1219 942.4 1220.4 941.6 1221.8 936.6 1223.2 937.1 1224.6 937.8 1225.9 937.8 1227.3 935.8 1228.7 935.6 1230.1 936 1231.5 933.2 1232.9 932.2 1234.3 931.4" stroke="#a80000" stroke-width="6.8" fill="none" stroke-linejoin="round"/>
<path d="M999.2 1089h0M999.6 1088.3h0M999.9 1089.7h0M999.9 1086.2h0M1000 1089h0M1000.1 1088.5h0M1000.4 1086.8h0M1000.9 1088.9h0M1001 1086h0M1001.3 1085.8h0M1001.7 1086.9h0M1002 1087.6h0M1002.2 1086.8h0M1002.2 1088.3h0M1002.5 1084.4h0M1002.5 1085.9h0M1002.6 1086.7h0M1002.7 1086.9h0M1002.8 1085.1h0M1003 1084h0M1003 1087.1h0M1003.7 1085.8h0M1003.7 1087.1h0M1004.3 1084h0M1004.4 1084.5h0M1004.4 1082h0M1004.8 1084.5h0M1005.7 1084.2h0M1005.9 1084.4h0M1005.9 1082.5h0M1006.1 1085.3h0M1006.2 1082.4h0M1006.2 1083h0M1006.3 1083.8h0M1006.3 1084.3h0M1006.4 1081.9h0M1007 1080.5h0M1007.1 1083.2h0M1007.3 1081.9h0M1007.4 1080.4h0M1007.6 1083h0M1007.9 1082.4h0M1007.9 1083.5h0M1008.1 1082.1h0M1008.2 1081.9h0M1008.3 1082.3h0M1008.7 1082.4h0M1009.2 1083h0M1009.3 1082.7h0M1009.4 1082.2h0M1009.4 1080.1h0M1009.5 1081.5h0M1009.8 1081.7h0M1010.1 1079.6h0M1010.1 1079.7h0M1010.1 1081.4h0M1010.3 1081h0M1010.5 1079.3h0M1010.8 1079.5h0M1010.8 1080.9h0M1011 1079.4h0M1011.1 1079.7h0M1011.1 1078.2h0M1011.3 1080.6h0M1011.8 1078h0M1011.8 1078.6h0M1012.1 1080.2h0M1012.5 1077.2h0M1013 1077h0M1013 1079.9h0M1013 1075.7h0M1013 1079.6h0M1013.4 1079h0M1013.6 1078.1h0M1013.7 1076.6h0M1014 1076.7h0M1014 1077.5h0M1014.3 1075.4h0M1014.3 1076.6h0M1014.3 1075.3h0M1014.5 1073.3h0M1014.7 1076.6h0M1015.3 1079.8h0M1015.5 1076.8h0M1015.5 1077.6h0M1015.7 1075.9h0M1017.2 1074.7h0M1017.5 1076.3h0M1017.5 1076.2h0M1017.5 1074.9h0M1017.7 1074.7h0M1017.7 1078.1h0M1017.9 1072.9h0M1018 1074.1h0M1018.2 1074h0M1018.3 1073.5h0M1018.4 1075.3h0M1018.5 1073.8h0M1018.5 1072.3h0M1018.8 1072h0M1019 1072.8h0M1019.5 1073.4h0M1019.8 1073.9h0M1019.9 1070.7h0M1020 1071.8h0M1020.1 1073.1h0M1020.1 1075.6h0M1020.4 1073.5h0M1020.5 1075h0M1020.7 1070.2h0M1020.7 1071.7h0M1020.8 1073h0M1021.6 1071.6h0M1021.6 1067.4h0M1021.7 1069.3h0M1022 1072.9h0M1022 1071.1h0M1022.1 1072.6h0M1022.3 1073.2h0M1023 1069.7h0M1023.6 1065.8h0M1023.9 1066.9h0M1023.9 1069.2h0M1024.2 1069.6h0M1024.3 1068.6h0M1024.4 1067.3h0M1025 1070.6h0M1025 1071.2h0M1025.1 1065.3h0M1025.4 1067.5h0M1025.4 1065.4h0M1025.6 1067.4h0M1025.9 1065.2h0M1026 1068.4h0M1026.1 1066.6h0M1026.2 1064.8h0M1026.2 1065.6h0M1027 1067.3h0M1027.3 1064.8h0M1027.5 1067.3h0M1027.5 1068.5h0M1027.5 1065.3h0M1028 1063.4h0M1028 1064.3h0M1028 1067.7h0M1028.5 1063.8h0M1028.8 1063.9h0M1028.8 1065.7h0M1028.9 1069.1h0M1029.5 1062.6h0M1029.8 1062.6h0M1029.8 1063.3h0M1029.8 1067h0M1029.9 1066.6h0M1030.8 1061.5h0M1031.4 1061.3h0M1031.6 1061.7h0M1031.7 1062.8h0M1032 1061.4h0M1032.1 1063h0M1032.2 1062.5h0M1032.5 1063.3h0M1032.8 1061h0M1032.9 1062.1h0M1033.3 1059.3h0M1033.5 1059.5h0M1033.6 1062.2h0M1033.6 1057.4h0M1033.8 1062.6h0M1033.9 1059.7h0M1034.3 1058.1h0M1034.4 1057.7h0M1034.6 1063.8h0M1034.9 1057.7h0M1035.1 1057.2h0M1036 1055.9h0M1036.1 1062.6h0M1036.5 1059.4h0M1036.6 1058.2h0M1036.7 1058.7h0M1036.8 1055.3h0M1037.1 1058.8h0M1037.3 1055.1h0M1037.5 1056.2h0M1037.6 1059.8h0M1037.8 1058.7h0M1038.3 1057.3h0M1038.3 1056.2h0M1038.4 1054.5h0M1038.5 1056.6h0M1039 1054.1h0M1039.1 1058.8h0M1039.3 1061.5h0M1039.4 1056.1h0M1039.5 1054.5h0M1039.9 1055.7h0M1040.2 1056.7h0M1040.4 1053.6h0M1040.7 1050.4h0M1041.1 1054.1h0M1041.1 1055.3h0M1041.1 1055.5h0M1041.2 1049.9h0M1041.5 1053.6h0M1041.6 1052.2h0M1041.7 1050.9h0M1042 1050.9h0M1042 1054.9h0M1042.1 1051h0M1042.5 1050.9h0M1042.6 1051.5h0M1042.6 1050.4h0M1043 1053.3h0M1043.1 1052.2h0M1043.3 1052.9h0M1043.4 1050.2h0M1044.5 1052.1h0M1044.6 1049.8h0M1044.8 1052.8h0M1044.8 1050.7h0M1045 1051h0M1045.5 1050.1h0M1045.6 1049.5h0M1046.1 1049.6h0M1046.1 1049.7h0M1046.2 1053.5h0M1046.5 1046.5h0M1046.9 1049.8h0M1047.2 1048.8h0M1047.3 1049.8h0M1047.7 1045.6h0M1047.7 1049.6h0M1047.9 1046.5h0M1047.9 1045h0M1048.1 1043.8h0M1048.2 1044.7h0M1048.4 1045.7h0M1048.7 1049.4h0M1049.4 1043.4h0M1049.4 1043.5h0M1049.4 1044.3h0M1049.7 1044.1h0M1049.8 1045.6h0M1049.9 1046.8h0M1050.2 1043h0M1050.2 1042.6h0M1050.3 1047.6h0M1050.3 1043.3h0M1050.7 1044.4h0M1050.8 1042.9h0M1050.8 1044.2h0M1050.8 1042.3h0M1050.9 1042.5h0M1051.4 1042.3h0M1052 1046.8h0M1052 1041.8h0M1053 1042.6h0M1053.3 1045h0M1053.4 1040.7h0M1053.7 1045.2h0M1054.2 1039.5h0M1054.3 1037.6h0M1054.3 1042.7h0M1054.8 1038.9h0M1055.2 1039.6h0M1055.4 1039h0M1055.6 1043.5h0M1055.8 1038.6h0M1055.9 1039.7h0M1056.5 1037.7h0M1056.7 1039.3h0M1056.8 1036.6h0M1056.9 1038.4h0M1057.1 1037.3h0M1057.4 1035.3h0M1057.5 1038h0M1057.6 1036h0M1058 1037.5h0M1058.6 1036.2h0M1058.6 1038.7h0M1058.9 1035.3h0M1059.4 1033.7h0M1059.8 1036.5h0M1060.1 1034.1h0M1060.1 1035h0M1060.6 1038.4h0M1060.8 1034.5h0M1061.1 1031.9h0M1061.2 1036.2h0M1061.6 1039.1h0M1061.7 1034.1h0M1061.7 1036.2h0M1061.7 1029.8h0M1062.1 1034.3h0M1062.1 1034.2h0M1062.1 1035.8h0M1062.5 1033.2h0M1062.6 1035.1h0M1062.8 1035.9h0M1062.9 1033.6h0M1063 1035.4h0M1063.4 1029.6h0M1063.7 1035.6h0M1063.8 1032.8h0M1064 1034.2h0M1064 1035.9h0M1064 1028.1h0M1064.3 1037.5h0M1064.6 1028.1h0M1064.8 1035.3h0M1065 1031.3h0M1065.1 1025.5h0M1065.3 1036.7h0M1065.3 1034.7h0M1065.5 1027.6h0M1065.9 1030.3h0M1065.9 1032.1h0M1066.2 1030.5h0M1066.2 1032.9h0M1066.5 1029.8h0M1066.7 1026h0M1067 1030.7h0M1067 1029.3h0M1067.2 1026.3h0M1067.3 1024.1h0M1067.3 1030.9h0M1067.5 1028.4h0M1068.4 1029.9h0M1068.6 1029.9h0M1068.9 1028.9h0M1069.2 1029.4h0M1069.4 1032.2h0M1069.7 1032.6h0M1070 1028.9h0M1070.1 1026.5h0M1070.1 1023.5h0M1070.3 1028.1h0M1070.4 1027h0M1070.4 1024.7h0M1070.9 1024.1h0M1070.9 1026.4h0M1070.9 1026.2h0M1070.9 1020.9h0M1071.1 1026.9h0M1071.1 1027.3h0M1071.7 1029.9h0M1071.8 1024.1h0M1071.9 1025.9h0M1071.9 1019.9h0M1072.5 1025.6h0M1072.6 1022.3h0M1072.6 1022h0M1072.7 1019.8h0M1072.8 1028.1h0M1072.9 1019.9h0M1072.9 1024.2h0M1073.3 1024.2h0M1073.5 1024.7h0M1073.5 1024.9h0M1073.7 1024.5h0M1073.9 1030h0M1074.4 1021.5h0M1074.5 1022.7h0M1074.5 1025.6h0M1074.6 1022.9h0M1074.9 1016h0M1074.9 1021.4h0M1074.9 1023.6h0M1074.9 1017.6h0M1076.2 1023.6h0M1076.3 1021.7h0M1076.3 1022.9h0M1076.3 1021.9h0M1076.5 1019h0M1076.6 1019.3h0M1076.6 1023.2h0M1076.6 1021.4h0M1077.6 1019.8h0M1078.1 1020.9h0M1078.2 1019.7h0M1078.3 1021.7h0M1078.4 1021.6h0M1078.5 1019.2h0M1078.8 1022.1h0M1080 1016.8h0M1080.1 1018.5h0M1080.3 1020.6h0M1080.4 1019.6h0M1080.7 1018.9h0M1081.1 1017.6h0M1081.4 1016.5h0M1081.4 1017.4h0M1081.5 1019.4h0M1081.5 1012.4h0M1081.7 1013.8h0M1081.7 1016.2h0M1081.8 1013.6h0M1082.2 1015.1h0M1082.4 1016.7h0M1082.6 1015.6h0M1083.2 1007h0M1083.5 1011.9h0M1083.7 1011.6h0M1083.8 1016h0M1084 1012.7h0M1084.1 1007.5h0M1084.1 1013.2h0M1085.1 1010.3h0M1085.7 1009.2h0M1085.8 1011.1h0M1085.8 1008.1h0M1086 1012.3h0M1086.1 1011.3h0M1086.3 1014.7h0M1086.6 1004h0M1086.7 1011.5h0M1087.2 1011.6h0M1087.4 1007.4h0M1088 1012.9h0M1088.1 1011.3h0M1088.2 1013.7h0M1088.3 1011h0M1088.9 1011.9h0M1089 1008.7h0M1089.3 1010.7h0M1089.3 1012.3h0M1089.4 1011.2h0M1089.4 1010.6h0M1089.5 1011.8h0M1089.5 1007.1h0M1090 1007.5h0M1090.2 1009.1h0M1090.2 1013.5h0M1090.3 1007.8h0M1090.3 1013.7h0M1090.4 1008.8h0M1090.5 1009.2h0M1090.6 1011.2h0M1091.3 1011.4h0M1091.4 1010.9h0M1091.5 1001.7h0M1091.9 1009.1h0M1091.9 1008.9h0M1092 1004.9h0M1092.1 1006.7h0M1092.3 1004.3h0M1092.7 1011.7h0M1092.8 1011.2h0M1093.3 995.8h0M1093.7 1006.9h0M1093.9 1007.5h0M1094 1006h0M1094.3 1002.9h0M1094.5 1010.2h0M1094.5 1005.1h0M1095.6 1005.3h0M1095.8 1002.7h0M1095.9 1004.4h0M1096.4 1006.4h0M1096.4 1007.6h0M1096.5 1013h0M1096.6 1001h0M1096.6 1009.5h0M1096.6 1005.8h0M1097.8 997.6h0M1098 1004.8h0M1098.1 1001h0M1098.3 1003.8h0M1098.6 1000.4h0M1098.7 1002.7h0M1098.8 1004.5h0M1099 997.7h0M1099.6 1003h0M1099.7 1006.7h0M1099.9 1002.9h0M1100.1 999.7h0M1100.3 1005.5h0M1100.3 998.7h0M1101.1 998.1h0M1101.4 992.9h0M1101.8 1002.6h0M1102.1 997.6h0M1102.3 1006h0M1102.7 1001.1h0M1103.4 998.6h0M1103.6 997.3h0M1103.6 999h0M1103.7 999.1h0M1104.1 1000.7h0M1104.2 1000h0M1104.2 997.2h0M1104.5 996.1h0M1104.8 995.5h0M1105.3 993.8h0M1105.9 992.6h0M1106.1 1003.7h0M1106.3 998.7h0M1106.5 997.2h0M1106.5 999h0M1106.5 992.6h0M1106.9 993.4h0M1106.9 996.6h0M1107.7 995.1h0M1107.9 990.7h0M1108.1 996.7h0M1108.7 996h0M1108.7 991.3h0M1108.9 992.9h0M1109.3 988.9h0M1109.5 992.8h0M1109.5 991.3h0M1109.6 996.3h0M1109.7 997.7h0M1110.1 993.8h0M1110.3 1004h0M1110.6 991.8h0M1110.8 989.4h0M1110.9 992.9h0M1111.2 993.8h0M1111.3 988.5h0M1111.7 992.7h0M1111.7 988.7h0M1112 983.6h0M1112.1 989.4h0M1112.5 988.2h0M1113 989.5h0M1113.4 990.2h0M1113.5 990.1h0M1113.5 990.9h0M1114 986.4h0M1114.3 997.1h0M1114.4 991.5h0M1114.6 987.7h0M1115.7 992.9h0M1116.1 989.6h0M1117 991.4h0M1117.3 986.5h0M1117.4 984.6h0M1117.6 982h0M1117.7 985.9h0M1117.9 990.8h0M1118 986.8h0M1118 985.4h0M1118 981.9h0M1118.5 996.3h0M1118.7 985.7h0M1118.7 994.9h0M1119 984h0M1119.1 985.1h0M1119.2 984.8h0M1119.2 983.2h0M1119.2 985.2h0M1119.3 989.5h0M1119.4 985.2h0M1119.5 981.6h0M1119.5 987.1h0M1119.7 986.4h0M1119.8 991.5h0M1120.3 981.2h0M1120.4 988.1h0M1120.6 989h0M1121 987.4h0M1121.1 989.2h0M1121.4 986.3h0M1121.5 979.8h0M1121.7 981.7h0M1122.3 978.5h0M1122.4 978.2h0M1122.4 988.4h0M1122.6 982.3h0M1122.6 977.9h0M1122.7 974.5h0M1123.6 989.8h0M1123.6 989.8h0M1123.9 981.5h0M1123.9 984.9h0M1124.1 987.7h0M1124.1 981.7h0M1124.1 986.7h0M1124.3 993.1h0M1124.4 983.2h0M1124.7 982.4h0M1125 979.9h0M1125.2 978.5h0M1125.2 981.7h0M1125.4 983.4h0M1125.5 985.3h0M1126 989.3h0M1126.2 983.8h0M1126.2 977.4h0M1126.3 979h0M1126.3 972.7h0M1126.4 982.4h0M1127.1 989.2h0M1127.2 977.5h0M1127.6 976.2h0M1127.7 986h0M1128 987.8h0M1128.9 979.3h0M1129 976.8h0M1129.8 984.5h0M1130.1 980.8h0M1130.1 982.7h0M1130.1 984.6h0M1130.2 985.2h0M1130.3 978.5h0M1130.6 980.6h0M1130.8 981.8h0M1130.9 990.6h0M1131 970.6h0M1131.2 982.8h0M1131.2 979.1h0M1131.2 983.7h0M1131.3 976.7h0M1131.6 985.2h0M1131.7 977.7h0M1131.7 979h0M1131.8 973.9h0M1132 983h0M1132 981h0M1132.5 978.7h0M1132.5 967.9h0M1132.7 984.4h0M1133 976h0M1133.1 980.3h0M1133.4 975.6h0M1133.5 974h0M1133.8 976.2h0M1134.1 975.4h0M1134.1 975.3h0M1134.2 979.3h0M1134.4 977.5h0M1134.5 984.2h0M1134.6 978h0M1135 979.7h0M1135.3 977.1h0M1135.4 972.3h0M1135.6 973.9h0M1135.7 973.4h0M1135.8 970.4h0M1135.8 986.9h0M1135.9 973.4h0M1136.1 975.5h0M1136.3 975.7h0M1136.5 981.3h0M1136.9 972.3h0M1136.9 969.4h0M1137 969.9h0M1137.3 975h0M1137.7 971.3h0M1138 969.7h0M1138.4 965.2h0M1138.6 967.9h0M1138.6 973.1h0M1138.7 973.3h0M1138.8 972.9h0M1139.1 972.5h0M1139.1 975.9h0M1139.2 969.7h0M1139.4 976.7h0M1139.6 977.2h0M1139.8 971.4h0M1140.5 975.5h0M1140.5 973.9h0M1140.9 982.7h0M1141.3 968.3h0M1141.4 972.2h0M1141.5 972.7h0M1141.7 969.7h0M1141.8 970.9h0M1141.8 975.4h0M1142.1 961.8h0M1142.5 973.7h0M1142.9 966.4h0M1143.2 961.9h0M1143.5 974h0M1143.6 970.4h0M1143.8 974.8h0M1143.8 965.4h0M1144 972.3h0M1144.1 976.1h0M1144.2 963.9h0M1144.2 965.9h0M1145.3 974.4h0M1146.3 963.2h0M1146.6 968.1h0M1146.6 955.2h0M1146.7 960.3h0M1147 971.7h0M1147 970.2h0M1147.2 973.2h0M1147.2 968h0M1147.7 968.2h0M1147.7 964.6h0M1147.9 967.9h0M1147.9 975.9h0M1148.2 972.3h0M1148.7 960.5h0M1149.2 961.5h0M1149.2 968.4h0M1149.4 968.2h0M1149.4 968.3h0M1149.6 967.2h0M1150.3 975.7h0M1150.4 962.1h0M1150.6 970.2h0M1150.6 966h0M1150.9 979.9h0M1150.9 965.4h0M1151.5 959.2h0M1151.8 977.9h0M1152 957.9h0M1152.1 963.4h0M1152.6 969.5h0M1152.6 974.1h0M1152.7 959.4h0M1152.7 964.1h0M1153.1 962.2h0M1153.2 966.8h0M1153.5 969.4h0M1153.6 960.4h0M1153.7 970.2h0M1154.1 959.9h0M1154.3 973.7h0M1154.7 969.5h0M1154.7 972.3h0M1155 957.2h0M1155.1 973.7h0M1155.6 970.1h0M1155.9 960.1h0M1156.1 962.4h0M1156.1 951.7h0M1156.2 953.5h0M1156.5 960.1h0M1156.6 959.6h0M1156.9 973.2h0M1157.2 967.9h0M1157.3 964.8h0M1157.6 963.8h0M1157.8 970.3h0M1158.1 967.7h0M1158.5 967h0M1159.1 956.1h0M1159.1 959.7h0M1159.2 963.8h0M1159.3 963.5h0M1159.5 960.2h0M1159.6 965.7h0M1159.6 963.2h0M1159.7 971.3h0M1159.7 957.9h0M1159.7 956.3h0M1159.8 959.6h0M1159.8 959h0M1159.8 959.6h0M1160.5 949.8h0M1160.5 960.1h0M1160.9 968.5h0M1161.1 966.9h0M1161.7 956.6h0M1161.8 954.5h0M1161.9 956.2h0M1162 955.7h0M1162.1 959.3h0M1162.3 968.8h0M1162.7 964.2h0M1162.9 970.4h0M1162.9 962.2h0M1163.1 967.7h0M1163.2 959.3h0M1163.4 960.7h0M1163.9 970.7h0M1164 955.2h0M1164.2 954.9h0M1164.2 967.4h0M1164.3 958.5h0M1164.3 955.1h0M1164.6 960.8h0M1164.9 954h0M1165 957.8h0M1165.1 952.7h0M1165.2 957.8h0M1165.3 959.7h0M1165.4 955.8h0M1165.5 954.1h0M1165.5 957.2h0M1165.5 961.3h0M1165.8 963.2h0M1165.9 960.7h0M1166 961.8h0M1166.3 957.1h0M1166.8 957h0M1166.9 958.5h0M1167 957.9h0M1167.4 956.7h0M1168 948.1h0M1168.7 949.9h0M1168.8 960.5h0M1169 954.4h0M1170.4 958.2h0M1170.8 956.6h0M1171 957.4h0M1171.1 959.7h0M1171.3 964.1h0M1172.2 970.4h0M1172.7 954h0M1172.8 947.9h0M1172.9 960.6h0M1173.2 951.8h0M1173.3 957.3h0M1173.3 953.2h0M1173.5 959.8h0M1173.9 956.1h0M1174.2 955.2h0M1174.2 969.2h0M1174.3 953.1h0M1175 955h0M1175 969.5h0M1175.1 950.1h0M1175.2 954.2h0M1175.3 952.7h0M1175.3 951.8h0M1175.3 956.6h0M1175.4 960.6h0M1175.5 956.7h0M1175.6 956.5h0M1175.7 939.9h0M1175.9 942.2h0M1176 956.7h0M1176.1 956.2h0M1176.1 951.6h0M1176.3 950h0M1176.5 957.8h0M1176.5 959.8h0M1176.7 941.2h0M1177 946.6h0M1177.1 963h0M1177.2 964.3h0M1177.2 958.4h0M1177.5 951.6h0M1178.1 949.3h0M1178.9 954.6h0M1179 962.7h0M1179 951h0M1179.6 948.2h0M1180.1 951.9h0M1180.1 955.1h0M1180.3 948.1h0M1180.6 952h0M1180.7 958.9h0M1180.7 951h0M1180.7 960h0M1180.9 945.3h0M1180.9 948.5h0M1181.4 957.8h0M1181.5 949.9h0M1181.5 943.1h0M1181.6 965.2h0M1181.8 952.1h0M1181.9 940.4h0M1182.1 961.2h0M1182.1 952.1h0M1182.4 960.3h0M1182.4 951.3h0M1182.8 966.5h0M1183 961.4h0M1183 954.2h0M1183.3 949.6h0M1183.4 948h0M1183.4 947.7h0M1183.4 942.9h0M1183.6 945.8h0M1183.8 945.4h0M1183.8 956.8h0M1184.2 951.2h0M1184.3 929h0M1184.3 935.1h0M1184.6 944.5h0M1186 944.5h0M1186.1 942.8h0M1186.3 952h0M1186.4 936.1h0M1186.4 951.8h0M1186.4 949.8h0M1186.4 934.6h0M1186.7 963.3h0M1187.2 946.5h0M1187.3 960.6h0M1187.5 953.3h0M1187.7 949.4h0M1188 951.1h0M1188.7 947.3h0M1189 953.6h0M1189 949h0M1189.3 956.4h0M1189.6 950.8h0M1189.6 957.7h0M1189.7 943.6h0M1189.9 957h0M1190 943.2h0M1190.2 950.8h0M1190.6 949.9h0M1190.8 939.5h0M1191.6 946.7h0M1191.7 960.7h0M1191.9 943.9h0M1192.1 967.7h0M1192.1 945.4h0M1192.4 950h0M1192.5 957.1h0M1192.6 946.6h0M1192.6 949.3h0M1193.1 932.8h0M1193.4 950.1h0M1193.4 933.2h0M1193.4 937.1h0M1193.5 951.3h0M1193.5 952.7h0M1193.7 937.5h0M1194.2 947.7h0M1194.6 945.5h0M1195.4 948.2h0M1195.6 955.1h0M1195.9 949h0M1196 953.2h0M1196.8 957.2h0M1196.8 948.2h0M1197.2 933h0M1197.6 934.1h0M1197.9 946.3h0M1198.1 944.8h0M1198.3 942h0M1199 935.6h0M1199 943.2h0M1199.2 949h0M1200.1 948.2h0M1200.8 936.8h0M1200.8 925.8h0M1200.9 949.8h0M1201 960.4h0M1201.1 939.1h0M1201.6 945.6h0M1201.7 944h0M1201.7 935.7h0M1201.7 944.5h0M1202.7 954.7h0M1202.7 959.5h0M1203.5 945h0M1204 953.3h0M1204.6 942.2h0M1205 954h0M1205 947h0M1205.4 955.4h0M1205.7 946.9h0M1205.8 947.6h0M1205.9 939.6h0M1205.9 933.8h0M1206 945.5h0M1206.4 950.6h0M1206.4 929h0M1206.5 941.2h0M1206.8 939.2h0M1207 939.2h0M1207.3 932.6h0M1207.5 936h0M1207.5 938.6h0M1207.6 937.8h0M1208.3 950.3h0M1208.4 948.3h0M1208.5 944.4h0M1208.5 942.8h0M1208.6 943.4h0M1209.1 941h0M1209.1 943.2h0M1209.5 946.7h0M1210 956h0M1210 936.7h0M1210.3 938.6h0M1210.7 950h0M1210.9 939.1h0M1211.2 939.9h0M1211.5 942.3h0M1211.8 957.4h0M1211.9 952.4h0M1212.1 947.5h0M1212.2 930h0M1212.2 949.6h0M1212.8 945.4h0M1213.8 951.2h0M1214.1 946.2h0M1214.4 939.5h0M1215.5 958.6h0M1215.5 964.7h0M1215.7 936.5h0M1216 941.5h0M1216.3 946.5h0M1216.6 933.8h0M1216.8 933.8h0M1217.1 958.3h0M1217.1 942.8h0M1217.2 932.6h0M1217.2 946.8h0M1217.3 943.9h0M1217.5 933.7h0M1217.6 943.5h0M1217.7 950.9h0M1217.7 946.8h0M1217.8 951.9h0M1218.1 936.7h0M1218.2 955h0M1218.2 933.1h0M1218.2 954.4h0M1219.1 940.5h0M1219.1 952.6h0M1219.3 943.3h0M1219.6 932.5h0M1219.7 931.6h0M1219.9 930.1h0M1220.4 941.1h0M1220.4 939.6h0M1220.4 938.5h0M1221.3 935.2h0M1221.5 943.3h0M1221.5 931.2h0M1221.6 937.4h0M1221.7 930.8h0M1221.9 936.1h0M1221.9 934.4h0M1222.1 945.7h0M1222.3 943.1h0M1222.3 950.1h0M1222.5 942.1h0M1222.7 941h0M1222.8 932.8h0M1222.9 949.6h0M1223.5 913.2h0M1223.6 940.2h0M1223.8 929h0M1223.9 930.7h0M1224.2 959.3h0M1224.3 941.1h0M1224.5 927h0M1224.6 958.3h0M1224.9 932.5h0M1225 946h0M1225.5 942.2h0M1225.5 936.6h0M1225.6 953.4h0M1225.7 936.8h0M1225.9 943.4h0M1226.5 944h0M1226.5 932.3h0M1226.5 909.7h0M1226.7 935.1h0M1226.8 933.3h0M1227.1 938.1h0M1227.5 943.3h0M1227.7 935.3h0M1227.8 925.1h0M1228.1 935.6h0M1228.3 929.9h0M1228.3 938.9h0M1228.3 916.7h0M1228.6 950.2h0M1228.7 932.1h0M1228.8 932.4h0M1229 934.5h0M1229.1 945.6h0M1229.1 945.8h0M1229.1 938.5h0M1229.2 935.8h0M1229.3 946.3h0M1229.4 945.1h0M1229.4 932h0M1229.5 928.1h0M1230 940.7h0M1230 941.8h0M1230.1 941.9h0M1230.2 916.1h0M1230.2 932.1h0M1230.3 936.5h0M1230.3 927.9h0M1230.4 917.4h0M1230.7 926.3h0M1231.1 947h0M1231.2 936.2h0M1231.2 938.7h0M1231.3 938.1h0M1231.5 945.1h0M1231.7 938.3h0M1232 943.7h0M1232.3 932h0M1232.5 934.3h0M1232.7 945.8h0M1233 947.7h0M1234 936.1h0M1234.5 925.8h0M1234.7 926.8h0M1234.9 930.8h0M1235 956.7h0" stroke="#a80000" stroke-width="4.4" stroke-linecap="round" fill="none" opacity="0.85"/>
<path d="M1237.8 920.8 1241.3 919.6 1244.8 921 1248.3 922.4 1251.7 923.8 1255.2 925.3 1258.7 926.4 1262.2 925 1265.7 923.7 1269.2 922.4 1272.7 921.1 1276.2 921.9 1279.6 923.5 1283.1 925 1286.6 926.6 1290.1 928.1 1293.6 928.7 1297.1 927.6 1300.6 926.6 1304 925.7 1307.5 924.8 1311 926.6 1314.5 928.4 1318 930.3 1321.5 932.3 1325 934.4 1328.4 935 1331.9 934.7 1335.4 934.6 1338.9 934.5 1342.4 935.2 1345.9 937.9 1349.4 940.8 1352.9 943.8 1356.3 947.1 1359.8 950.6 1363.3 952 1366.8 953 1370.3 953.9 1373.8 954.6 1377.3 956.5 1380.7 959.4 1384.2 962.3 1387.7 965.2 1391.2 968.1 1394.7 970.7 1398.2 971.4 1401.7 972.1 1405.1 972.8 1408.6 973.6 1412.1 976.3 1415.6 979.7 1419.1 983.5 1422.6 987.6 1426.1 991.9 1429.6 995.6 1433 998.2 1436.5 1000.9 1440 1003.6 1443.5 1006.3 1447 1010.9 1450.5 1015.4 1454 1019.9 1457.4 1024.3 1460.9 1028.7 1464.4 1032 1467.9 1034.7 1471.4 1037.5 1474.9 1040.3 1478.4 1043.8 1481.8 1048.9 1485.3 1054.5 1488.8 1060.3 1492.3 1065.9 1495.8 1071.2 1499.3 1074.1 1502.8 1076.2 1506.3 1078 1509.7 1079.6 1513.2 1081.9 1516.7 1085 1520.2 1088.1 1523.7 1091.2 1527.2 1094.3 1530.7 1097.3 1534.1 1098.8 1537.6 1100.3 1541.1 1101.8 1544.6 1103.2 1548.1 1106 1551.6 1109.2 1555.1 1112.4 1558.5 1115.6 1562 1118.8 1565.5 1121.5 1569 1123.3 1572.5 1125.2 1576 1127.2 1579.5 1129.2 1583 1132.8 1586.4 1136.4 1589.9 1139.8 1593.4 1143 1596.9 1146.1 1600.4 1148.1 1603.9 1149.5 1607.4 1150.7 1610.8 1152 1614.3 1153.6 1617.8 1156.3 1621.3 1159 1624.8 1161.7 1628.3 1164.4 1631.8 1167.1 1635.2 1168.5 1638.7 1169.8 1642.2 1171.1 1645.7 1172.4 1649.2 1174.4 1652.7 1177.1 1656.2 1179.9 1659.7 1182.6 1663.1 1185.3 1666.6 1187.8 1670.1 1189.1 1673.6 1190.4 1677.1 1191.8 1680.6 1193.2 1684.1 1195.6 1687.5 1198.3 1691 1201 1694.5 1203.7 1698 1206.4 1701.5 1208.5 1705 1209.8 1708.5 1211.1 1711.9 1212.3 1715.4 1213.5 1718.9 1216 1722.4 1218.5 1725.9 1221 1729.4 1223.4 1732.9 1225.8 1736.4 1227.4 1739.8 1228.5 1743.3 1229.6 1746.8 1230.7 1750.3 1232.1 1753.8 1234.3 1757.3 1236.5 1760.8 1238.6 1764.2 1240.8 1767.7 1242.9 1771.2 1243.9 1774.7 1244.8 1778.2 1245.7 1781.7 1246.6 1785.2 1248 1788.6 1250 1792.1 1251.9 1795.6 1253.9 1799.1 1255.8 1802.6 1257.6 1806.1 1258.5 1809.6 1259.4 1813.1 1260.3 1816.5 1261.2 1820 1262.8 1823.5 1264.7 1827 1266.6 1830.5 1268.4 1834 1270.2 1837.5 1271.5 1840.9 1272.2 1844.4 1272.9 1847.9 1273.5 1851.4 1274.1" stroke="#c84848" stroke-width="4.2" fill="none" stroke-linejoin="round"/>
<path d="M1851.4 1273.9 1854.9 1275.2 1858.4 1276.9 1861.9 1277.9 1865.3 1279.6 1868.8 1280.9 1872.3 1283.4 1875.8 1283 1879.3 1283.1 1882.8 1283.8 1886.3 1284.7 1889.8 1286.2 1893.2 1287.3 1896.7 1288.8 1900.2 1290.6 1903.7 1291.8 1907.2 1292.2 1910.7 1293.4 1914.2 1293.4 1917.6 1293.4 1921.1 1293.8 1924.6 1295.4 1928.1 1296.8 1931.6 1298 1935.1 1299.3 1938.6 1299.3 1942 1299.7 1945.5 1301 1949 1301.8 1952.5 1301.5 1956 1302.7" stroke="#c84848" stroke-width="5.0" fill="none" stroke-linejoin="round"/>
<path d="M1956 1303.2 1959.5 1303.5 1963 1304.1 1966.5 1303.9 1969.9 1306.4 1973.4 1306.7 1976.9 1307 1980.4 1307.3 1983.9 1307.5 1987.4 1308.7 1990.9 1309.4 1994.3 1310.8 1997.8 1310.3 2001.3 1312.3 2004.8 1312.3 2008.3 1313.5 2011.8 1313 2015.3 1314.3 2018.7 1315.4 2022.2 1315.5 2025.7 1315.3 2029.2 1316.4 2032.7 1317.4 2036.2 1317 2039.7 1317.5 2043.2 1318.8 2046.6 1318.7 2050.1 1320 2053.6 1319.5 2057.1 1319.7 2060.6 1320.7" stroke="#c84848" stroke-width="6.0" fill="none" stroke-linejoin="round"/>
<path d="M2060.6 1321.8 2064.1 1321.1 2067.6 1321.9 2071 1322.5 2074.5 1322.3 2078 1323.8 2081.5 1323.7 2085 1324.2 2088.5 1323.5 2092 1323.8 2095.4 1323.7 2098.9 1325.3 2102.4 1325.5 2105.9 1326.3 2109.4 1326.9 2112.9 1326.2 2116.4 1326.4 2119.9 1327 2123.3 1327.8 2126.8 1326.8 2130.3 1327.7 2133.8 1327.5 2137.3 1327.6 2140.8 1328.4 2144.3 1327.8 2147.7 1327.8 2151.2 1328.8 2154.7 1328.6 2158.2 1328.6 2161.7 1328.8 2165.2 1329.3 2168.7 1328.9 2172.1 1329.6 2175.6 1329.5 2179.1 1330.1 2182.6 1330" stroke="#c84848" stroke-width="7.0" fill="none" stroke-linejoin="round"/>
<path d="M266.5 1358.1 267.9 1357.3 269.3 1357.8 270.7 1354.5 272.1 1357.8 273.5 1355.2 274.9 1356.1 276.3 1357 277.7 1354.7 279.1 1355.3 280.4 1355.9 281.8 1355.5 283.2 1355.4 284.6 1356.3 286 1358 287.4 1357.7 288.8 1357.2 290.2 1357.4 291.6 1356 293 1355.5 294.4 1355.4 295.8 1354.1 297.2 1355.4 298.6 1355.2 300 1355.1 301.4 1354.8 302.8 1355.2 304.2 1355.1 305.5 1356.5 306.9 1356.5 308.3 1356.6 309.7 1356.3 311.1 1356.2 312.5 1358.5 313.9 1352.3 315.3 1355.2 316.7 1354.6 318.1 1354.4 319.5 1354 320.9 1354.4 322.3 1353.7 323.7 1353.6 325.1 1354.8 326.5 1353.6 327.9 1355.9 329.3 1356.3 330.6 1352.3 332 1354.1 333.4 1355.8 334.8 1355.9 336.2 1353.1 337.6 1353.5 339 1353.9 340.4 1354.1 341.8 1355 343.2 1353.5 344.6 1354.4 346 1352.2 347.4 1353.7 348.8 1352.8 350.2 1355.2 351.6 1356.1 353 1354.6 354.4 1353.1 355.8 1354.2 357.1 1351.6 358.5 1351.9 359.9 1352.8 361.3 1352.7 362.7 1349.6 364.1 1353.3 365.5 1351.7 366.9 1351.7 368.3 1353.6 369.7 1352.1 371.1 1351.2 372.5 1351.3 373.9 1352.7 375.3 1353.5 376.7 1354.1 378.1 1352.7 379.5 1349.7 380.9 1351.7 382.2 1349.9 383.6 1351.7 385 1350.6 386.4 1350.7 387.8 1350.4 389.2 1350.9 390.6 1350.3 392 1350.2 393.4 1350.7 394.8 1350.3 396.2 1351.2 397.6 1351.1 399 1350.8 400.4 1348.1 401.8 1348.1 403.2 1349.9 404.6 1348.3 406 1347.8 407.3 1348.1 408.7 1348.9 410.1 1348.1 411.5 1348.2 412.9 1348.1 414.3 1348.4 415.7 1348.6 417.1 1348.6 418.5 1346.7 419.9 1347.2 421.3 1345.8 422.7 1346 424.1 1346.2 425.5 1346.3 426.9 1345.2 428.3 1346.1 429.7 1345 431.1 1344.8 432.5 1343.5 433.8 1344.1 435.2 1344.2 436.6 1345.4 438 1346 439.4 1344 440.8 1344.6 442.2 1344.4 443.6 1340.6 445 1339.6 446.4 1340.3 447.8 1339.5 449.2 1340.3 450.6 1340.2 452 1339.9 453.4 1339.7 454.8 1340 456.2 1338.5 457.6 1339.8 458.9 1337.2 460.3 1338.5 461.7 1338.5 463.1 1337.1 464.5 1336 465.9 1334.9 467.3 1333.4 468.7 1334.3 470.1 1334 471.5 1332.9 472.9 1332.6 474.3 1333.1 475.7 1332.2 477.1 1330.6 478.5 1331.3 479.9 1331.3 481.3 1330.6 482.7 1330.2 484 1329.6 485.4 1329.3 486.8 1325.4 488.2 1324.6 489.6 1326.6 491 1324.7 492.4 1325.2 493.8 1323.4 495.2 1324.6 496.6 1323.4 498 1326.5 499.4 1322.7 500.8 1322.5 502.2 1323.9 503.6 1323.8 505 1320.7 506.4 1322.5 507.8 1322.8 509.2 1317.9 510.5 1319.3 511.9 1318 513.3 1317.3 514.7 1317.6 516.1 1317.2 517.5 1316.2 518.9 1319.1 520.3 1316.5 521.7 1315.9 523.1 1317.1 524.5 1316 525.9 1317 527.3 1315.3 528.7 1315.6 530.1 1312.3 531.5 1312 532.9 1311.4 534.3 1311.2 535.6 1312.5 537 1310.1 538.4 1309.9 539.8 1309.8 541.2 1310.3 542.6 1309.8 544 1310 545.4 1307.6 546.8 1308.7 548.2 1307.9 549.6 1307.5 551 1307.5 552.4 1302.5 553.8 1304.1 555.2 1303.6 556.6 1301.9 558 1302.7 559.4 1303.8 560.7 1301.6 562.1 1302.1 563.5 1301 564.9 1300.1 566.3 1299.6 567.7 1299.6 569.1 1300.7 570.5 1299.9 571.9 1298.1 573.3 1296.4 574.7 1295 576.1 1294.1 577.5 1294.6 578.9 1293 580.3 1292 581.7 1294.1 583.1 1290.9 584.5 1292.6 585.9 1290.3 587.2 1291.2 588.6 1290.6 590 1289.9 591.4 1287.9 592.8 1289.3 594.2 1288.9 595.6 1284.8 597 1285.1 598.4 1285.6 599.8 1283.6 601.2 1284 602.6 1282.3 604 1283.2 605.4 1282.9 606.8 1284.1 608.2 1282.2 609.6 1281.3 611 1281.7 612.3 1279.1 613.7 1280.5 615.1 1278.5 616.5 1275.2 617.9 1276.2 619.3 1274.9 620.7 1275.4 622.1 1272.4 623.5 1273.4 624.9 1272.1 626.3 1271.8 627.7 1269.8 629.1 1271.8 630.5 1270.6 631.9 1269 633.3 1268.2 634.7 1268 636.1 1269.5 637.4 1267.6 638.8 1264.1 640.2 1264.2 641.6 1263.3 643 1262.9 644.4 1262.8 645.8 1261.9 647.2 1261.8 648.6 1259.4 650 1260 651.4 1259.1 652.8 1259 654.2 1258.3 655.6 1257.2 657 1257 658.4 1257.6 659.8 1252.9 661.2 1251.8 662.6 1252.9 663.9 1252.8 665.3 1251.2 666.7 1251 668.1 1249.7 669.5 1249.8 670.9 1250.5 672.3 1249.8 673.7 1248.7 675.1 1247.9 676.5 1246.2 677.9 1247.5 679.3 1247.2 680.7 1247.2 682.1 1244.8 683.5 1242.9 684.9 1243 686.3 1240.7 687.7 1242.3 689 1241.5 690.4 1241.5 691.8 1240.4 693.2 1239.7 694.6 1240.2 696 1237.8 697.4 1238.4 698.8 1238.3 700.2 1236.2 701.6 1235.3 703 1233.4 704.4 1232.6 705.8 1232.5 707.2 1232 708.6 1230.2 710 1230.6 711.4 1230.7 712.8 1228.8 714.1 1228.2 715.5 1226.9 716.9 1228 718.3 1228.3 719.7 1224.8 721.1 1226 722.5 1225.5 723.9 1223.6 725.3 1220.3 726.7 1219.1 728.1 1218.7 729.5 1218.8 730.9 1218.6 732.3 1217.4 733.7 1217.4 735.1 1216.1 736.5 1214.2 737.9 1215.8 739.3 1214.8 740.6 1212.4 742 1213.8 743.4 1211.8 744.8 1210.7 746.2 1208.7 747.6 1204 749 1203.9 750.4 1205.1 751.8 1203.3 753.2 1201.8 754.6 1203 756 1201.2 757.4 1198.7 758.8 1198.2 760.2 1198.5 761.6 1198.3 763 1193.9 764.4 1194.7 765.7 1192.9 767.1 1190.3 768.5 1187.5 769.9 1184.8 771.3 1184.3 772.7 1184.6 774.1 1182.1 775.5 1180.7 776.9 1179 778.3 1177.1 779.7 1176 781.1 1172.6 782.5 1171.7 783.9 1171.2 785.3 1168.2 786.7 1167 788.1 1167 789.5 1163.1 790.8 1159.8 792.2 1158.3 793.6 1158.2 795 1156.6 796.4 1154.5 797.8 1154.4 799.2 1153.1 800.6 1151.4 802 1152.7 803.4 1150.1 804.8 1148.4 806.2 1147.3 807.6 1147.8 809 1145 810.4 1142.2 811.8 1139.1 813.2 1137.7 814.6 1135.9 816 1135.4 817.3 1134.2 818.7 1132.7 820.1 1131 821.5 1131 822.9 1127.6 824.3 1128.4 825.7 1126.4 827.1 1125.3 828.5 1121.7 829.9 1123.9 831.3 1119.6 832.7 1116.1 834.1 1116.1 835.5 1113.6 836.9 1112.3 838.3 1109.3 839.7 1109.4 841.1 1108.5 842.4 1107.4 843.8 1105.1 845.2 1104.1 846.6 1102.8 848 1100.3 849.4 1098.7 850.8 1099.5 852.2 1095.5 853.6 1095.8 855 1090.4 856.4 1090.1 857.8 1086.6 859.2 1086.1 860.6 1084.3 862 1082.2 863.4 1081.1 864.8 1078.5 866.2 1077.5 867.5 1075.6 868.9 1075 870.3 1072.6 871.7 1069.8 873.1 1069.1 874.5 1067.7 875.9 1062.5 877.3 1062.8 878.7 1060.3 880.1 1059.1" stroke="#000088" stroke-width="6.5" fill="none" stroke-linejoin="round"/>
<path d="M874 1065.1h0M874.4 1068.6h0M872.6 1070.6h0M875.8 1063.8h0M875.8 1070h0M879.4 1063.2h0M881.7 1063.9h0M876.9 1060.4h0M877.9 1059.8h0M878.8 1057.2h0M879.9 1056.5h0M880.6 1053.7h0M882.6 1058h0M885 1053.2h0M881.9 1054.7h0M882.3 1053.6h0M882.6 1050.9h0M888.1 1051h0M889.2 1049.7h0M885.4 1047.9h0M886 1047.7h0M889.6 1046.6h0M891.9 1043.8h0M892.5 1042.2h0M892 1041.8h0M893.5 1042.3h0M893.7 1043.2h0M893.1 1042.2h0M897.8 1039.1h0M895.5 1038.9h0M894.5 1036.4h0M896.3 1036.7h0M895.4 1033.9h0M898.6 1033.1h0M901.1 1030.7h0M898.1 1029.9h0M902.7 1031.7h0M905 1025.3h0M903 1026h0M901.3 1023.7h0M902.6 1024.9h0M904.2 1024.9h0M903.4 1020.1h0M904.3 1014.6h0M906.6 1018.8h0M907.5 1017.5h0M909.5 1012.3h0M907.4 1013.2h0M913.1 1012.1h0M912.6 1007h0M913.1 1010.5h0M911.4 1008.7h0M915.9 1006.9h0M913.4 1003.3h0M917.6 1002.5h0M917.2 1001.2h0M914.8 1001.6h0M916.3 997.7h0M920.8 1000.3h0M920.1 997.1h0M919.1 991.4h0M920.4 996.3h0M921.2 992.3h0M920.4 989.7h0M922 989.3h0M922.1 984.7h0M923.2 986.6h0M925.4 980.8h0M923.9 981.7h0M927.4 984.2h0M927.1 982.6h0M929 978.5h0M929.9 976h0M931.3 977.7h0M931 974.6h0M931.9 973.6h0M931.3 972.8h0M933.3 968.5h0M931.7 970.1h0M933.5 963.8h0M935.8 968.3h0M935.3 961.7h0M936.9 961.8h0M935.2 960.2h0M939.9 961h0M937.5 959.5h0M939.9 957.3h0M940 956.1h0M942.3 954.4h0M940.9 951.9h0M940.7 947.2h0M940 945h0M943.4 943.4h0M942.7 945.5h0M946.2 943.6h0M948.5 942.1h0M943.3 941h0M945.6 938.6h0M948.9 935.6h0M951.2 933.1h0M950.5 930.8h0M951.3 934.3h0M952.3 932h0M953.2 926.5h0M955.7 926.6h0M954.8 926.1h0M952.6 926.3h0M954.6 920.8h0M956.5 920.4h0M955.6 920.3h0M957.2 913.6h0M957.6 913.5h0M958.1 912.9h0M961.1 910h0M960.1 912.9h0M959.7 909h0M961.1 906h0M963.1 902.3h0M967.2 903.5h0M965 901.2h0M967.7 897.4h0M966.9 895.7h0M963.4 892.1h0M968.2 892.5h0M967 892.2h0M967 890.5h0M968.2 887.9h0M973.6 886.3h0M968.9 881.9h0M971.2 880.1h0M974.9 880.9h0M974.8 877.6h0M971.8 873.4h0M975.1 873.5h0M975.2 872h0M976.5 869.7h0M978.8 866.6h0M977.4 863.5h0M978.6 862.9h0M982.2 862.9h0M977.7 858.3h0M980.8 854.8h0M982.9 854.4h0M980.9 849.6h0M982.7 850h0M982.4 847h0M985.5 847h0M985 843.5h0M988.1 843.1h0M989.2 843.1h0M988.4 836.9h0M988.5 833.8h0M990.3 834h0M990.7 831.1h0M989.4 829.5h0M993.9 826.3h0M993.3 826.4h0M995 823.7h0M992.3 818.1h0M996.6 819.5h0M999.4 818.7h0M997.8 818.3h0M995.2 813.6h0M998.4 811.4h0M999 812.9h0M1000.2 808.2h0M1000.2 807.7h0M1002.2 806.5h0M1001.4 805.2h0M1003.3 802.2h0M1002.5 798.6h0M1004.6 800.3h0M1006.8 796.1h0M1005.2 794.1h0M1007.8 796.5h0M1006.1 792.7h0M1007.7 787.6h0M1008.6 786.6h0M1011.8 785h0M1009.3 782.1h0M1013.3 778.1h0M1009.7 780.5h0M1012.6 778.3h0M1015.1 775.1h0M1015.5 771.8h0M1013.5 770.5h0M1014 768.9h0M1018.1 763.7h0M1015.4 762.5h0M1019.2 759.7h0M1018.2 759.3h0M1019.7 756.1h0M1024.3 751.1h0M1023.8 749.8h0M1023.4 751.3h0M1020.6 744.3h0M1024.1 743.8h0M1024.4 740.1h0M1025 740.9h0M1028.1 736.4h0M1023.9 733.5h0M1027.9 730h0M1028.4 729.3h0M1027.7 728.9h0M1032.5 726.5h0M1028.4 721h0M1031.3 723.6h0M1032.2 718.4h0M1029.2 714.9h0M1031.2 714.7h0M1032.8 711.3h0M1036.4 709.2h0M1037.4 707h0M1037.6 705.7h0M1037.8 702.9h0M1034.6 698.8h0M1039.3 700.3h0M1038.9 696.4h0M1042.4 697.1h0M1043.4 693.9h0M1045.6 691.8h0M1043.9 689h0M1044.9 688.6h0M1042.6 683.7h0M1045.2 680.4h0M1043.8 680.4h0M1048 673.1h0M1045.4 674.8h0M1047.8 673.5h0M1047.6 670.2h0M1048.9 670.8h0M1051.2 667.6h0M1050.3 664.4h0M1052.3 661.4h0M1051.1 661.6h0M1055.8 656.5h0M1053.2 654.8h0M1056.7 654.5h0M1059.3 652.1h0M1052.6 652.4h0M1055.7 646.5h0M1057.8 641.7h0M1060.8 643.8h0M1058.8 642.8h0M1061 638.4h0M1060 639.3h0M1062.8 637.7h0M1060.7 631.6h0M1064.8 630h0M1059.4 626.7h0M1061.9 627.7h0M1068.7 626.1h0M1066.8 624h0M1065.8 619h0M1071.6 617.9h0M1070.5 614.9h0M1071.4 612.7h0M1069.7 611.3h0M1072.1 609h0M1072.7 609.5h0M1070 608.7h0M1074.4 607.3h0M1073.9 604.5h0M1077.1 601.7h0M1077.9 601.1h0M1075.4 600.3h0M1076.3 597.3h0M1078.3 596.2h0M1079.9 594h0M1078.9 592.1h0M1080.1 591.5h0M1082.1 588.1h0M1082.6 590.2h0M1084.5 584.4h0M1083.8 586.3h0M1082.7 581.9h0M1082.1 585.2h0M1087 582.8h0M1085.9 578.6h0M1086.7 577.9h0M1087.5 575.4h0M1086.2 575.8h0M1088.9 575.3h0M1086 577.5h0M1090.4 569.8h0M1090.4 572.8h0M1095.6 568.5h0M1094.1 568.6h0M1093.8 568.3h0M1095.2 566.5h0M1096.9 565h0M1095.2 562.8h0M1096.8 561.8h0M1097.4 560.8h0M1102.8 561.3h0M1099.6 555.7h0" stroke="#000088" stroke-width="7" stroke-linecap="round" fill="none"/>
<path d="M1089.9 573.2h0M1089.9 567.3h0M1090 575.6h0M1090.5 561.5h0M1091.1 617.5h0M1091.1 584.5h0M1091.7 570.7h0M1091.9 559.3h0M1092.3 574.1h0M1092.7 574.5h0M1093.2 571.1h0M1093.3 566.2h0M1093.3 569.3h0M1094.9 562.1h0M1095.1 580.9h0M1095.2 550.4h0M1095.2 559.1h0M1095.4 572.3h0M1095.7 550.6h0M1096.8 557.5h0M1097.6 546.3h0M1097.9 571.6h0M1098.2 543.4h0M1099 557.8h0M1100.2 576.9h0M1100.2 548.8h0M1100.6 558.7h0M1100.9 565.3h0M1101 557.3h0M1101.2 574.3h0M1101.3 548.7h0M1101.4 556.6h0M1101.9 556.4h0M1102 539.1h0M1102.1 552.9h0M1102.4 559.5h0M1103.5 560.8h0M1104.2 550.7h0M1104.3 538.8h0M1104.7 555.2h0M1104.9 559.8h0M1104.9 539.2h0M1105 548.1h0M1105.8 547.7h0M1105.8 525.4h0M1105.9 560.1h0M1106 545h0M1106.2 565.7h0M1106.6 549.5h0M1106.6 539.9h0M1106.7 534.1h0M1106.7 559.5h0M1106.8 537.1h0M1107 537.2h0M1108.1 545.1h0M1108.3 517h0M1108.4 543.5h0M1108.8 552.4h0M1108.9 538h0M1109.1 562.6h0M1109.4 524.8h0M1110 530.2h0M1110 545.3h0M1110.2 534h0M1110.2 534.7h0M1110.9 518.1h0M1111.9 544.9h0M1111.9 552.4h0M1112 560.6h0M1112.3 540.8h0M1112.6 554.6h0M1112.6 582.9h0M1112.8 532.1h0M1113 541.3h0M1113.4 546.5h0M1113.5 522.1h0M1113.9 537.3h0M1114.6 531.3h0M1114.8 522.8h0M1115.4 547.8h0M1116.2 542.3h0M1116.8 501.6h0M1116.9 532.3h0M1117.1 542.4h0M1117.2 533.1h0M1118.2 535.3h0M1118.5 605.5h0M1118.6 532.8h0M1118.9 527.7h0M1119 527.5h0M1119.1 520.8h0M1119.2 547.7h0M1119.4 544.6h0M1119.6 517.2h0M1119.7 531.6h0M1120 511.3h0M1121.1 520.6h0M1121.2 541.2h0M1121.4 517.4h0M1122 535.4h0M1122 519.9h0M1122.1 507.9h0M1122.1 497h0M1123.9 521.1h0M1124 511.4h0M1124.7 515.3h0M1124.9 508.9h0M1125.9 549.4h0M1126.7 521.1h0M1126.8 539.5h0M1127.5 509h0M1127.9 524.1h0M1128.4 503.1h0M1128.5 499.4h0M1129 512h0M1129.5 515.1h0M1130.4 515.5h0M1131 508.2h0M1131 494.5h0M1132.3 488.4h0M1132.5 514.1h0M1132.7 519.9h0M1132.7 518.1h0M1133.1 493.9h0M1133.8 503.1h0M1134.9 500.5h0M1135.2 497.6h0M1135.4 498.7h0M1135.5 505.3h0M1135.5 517.6h0M1135.6 511.8h0M1135.7 501.6h0M1136.6 496.7h0M1137.2 506.3h0M1137.2 506.9h0M1137.5 482h0M1138.1 506.4h0M1138.5 496.3h0M1138.7 503.6h0M1139 510.6h0M1139.2 519.5h0M1139.2 505.8h0M1139.3 509.6h0M1139.4 486.3h0M1139.8 513.6h0M1140.1 502.9h0M1141.1 486.6h0M1141.1 497.3h0M1141.3 488.5h0M1141.8 483h0M1142.4 517.4h0M1142.6 499.4h0M1144 505.4h0M1144.4 471.7h0M1144.9 492.1h0M1145.4 482.5h0M1145.4 465.1h0M1145.4 494.8h0M1145.8 488h0M1146 482.9h0M1146 492.6h0M1146.5 469.8h0M1146.6 476h0M1146.6 473.3h0M1146.7 487.1h0M1146.7 492.7h0M1147 492.5h0M1147.1 492.5h0M1147.3 510.9h0M1147.5 481.4h0M1147.9 474.2h0M1148.5 485.4h0M1148.5 492.5h0M1148.9 521.7h0M1149.5 509.1h0M1149.5 479h0M1149.6 457h0M1150.4 495.3h0M1152.4 474.2h0M1153.2 468.2h0M1154 476.3h0M1154 481.1h0M1154.2 492.8h0M1154.3 486.1h0M1155 527.5h0M1155.1 453.7h0M1155.1 486h0M1155.3 468.4h0M1155.7 467.1h0M1156.3 458.7h0M1156.3 470.5h0M1156.7 466.9h0M1156.8 459.8h0M1157.2 491h0M1157.5 471.9h0M1157.5 500h0M1159.5 500.9h0M1159.7 540.3h0M1160.6 492.8h0M1160.7 460.2h0M1161 452.2h0M1161.3 472.4h0M1161.7 469.2h0M1161.7 470.6h0M1162 470.8h0M1162 464.3h0M1162.1 460.8h0M1162.4 473.3h0M1162.7 478.2h0M1163 536h0M1163.4 451.8h0M1163.4 471.4h0M1163.7 479.4h0M1164.5 467.2h0M1164.6 441.1h0M1165.1 481.9h0M1166.6 472h0M1166.8 452.5h0M1167.1 452h0M1167.1 462.5h0M1168.1 473.7h0M1169.3 456.1h0M1170.2 451.3h0M1171.5 530.5h0M1171.8 426.3h0M1171.9 439.7h0M1172.6 446.3h0M1173 480.5h0M1173.6 446h0M1174.1 459.5h0M1174.2 444.7h0M1174.5 435.5h0M1174.7 463.7h0M1174.7 447.2h0M1174.7 435.8h0M1174.9 447.9h0M1175.3 455.8h0M1176.8 466.9h0M1177.1 459.9h0M1177.5 469.9h0M1177.9 430.2h0M1178.3 445.2h0M1178.7 467.8h0M1178.9 446.5h0M1179.7 468.3h0M1179.8 503.3h0M1180.3 423.7h0M1180.5 424.1h0M1180.5 470.8h0M1181 480.9h0M1181.1 440.5h0M1181.3 450.8h0M1181.5 458.9h0M1181.7 452.7h0M1182 447.5h0M1182.6 452.5h0M1182.7 438.7h0M1183.5 445.8h0M1183.6 455.2h0M1183.7 441h0M1184.1 470.9h0M1184.1 415h0M1184.5 471.9h0M1184.6 442h0M1185 433.9h0M1185.5 431.9h0M1185.6 434.6h0M1185.7 416.3h0M1185.9 459.4h0M1186.7 439.4h0M1187.7 434.3h0M1188.1 445.7h0M1188.5 447h0M1188.8 412.2h0M1188.9 448.9h0M1189.5 443.9h0M1190.3 439.3h0M1190.4 438.1h0M1190.6 430.9h0M1190.6 499.8h0M1190.6 426.9h0M1191.6 430.3h0M1192.8 422.5h0M1192.8 405.8h0M1193.5 446.7h0M1193.8 399.4h0M1195.1 437.9h0M1195.5 416.3h0M1195.5 425.8h0M1195.6 434.5h0M1196.2 465.7h0M1196.3 397.4h0M1196.4 442.6h0M1196.5 443.1h0M1196.6 407.7h0M1196.8 426.3h0M1197.7 390.4h0M1197.8 394.6h0M1198.1 413h0M1198.2 421.8h0M1198.3 411.8h0M1198.6 451.7h0M1198.8 422.9h0M1199.5 422.8h0M1200 434.5h0M1200.7 419.9h0M1200.9 453.2h0M1201.2 407h0M1201.7 399.1h0M1202 449.5h0M1202.4 421.1h0M1202.7 393.4h0M1203.3 415.3h0M1203.5 443.8h0M1203.5 442.9h0M1203.5 406.6h0M1203.8 387.1h0M1204.2 444.7h0M1204.5 422.3h0M1204.6 438.4h0M1205.1 428.6h0M1205.3 477.2h0M1205.3 423.7h0M1205.9 436.4h0M1205.9 380.7h0M1206.7 425.8h0M1206.7 426.2h0M1206.8 400.4h0M1207.2 422.3h0M1207.3 426.6h0M1208.1 403.4h0M1208.7 443.5h0M1209.1 451.7h0M1209.1 401.8h0M1209.3 409.3h0M1209.6 426.4h0M1210.3 423.1h0M1210.3 457.9h0M1210.5 425.7h0M1211 478.1h0M1211.2 405.6h0M1212 420.8h0M1212.1 431.7h0M1212.5 441.1h0M1212.7 485h0M1213.4 453.4h0M1213.5 399.5h0M1214.1 424.7h0M1214.2 435.4h0M1214.3 427.2h0M1214.8 435.4h0M1214.9 430.4h0M1215.5 471.8h0M1215.6 459.2h0M1215.7 451h0M1216.5 417h0M1216.7 428.5h0M1217 424h0M1217.4 403h0M1217.9 449.8h0M1218.1 404h0M1218.9 490.9h0M1219.1 444.1h0M1219.2 397.6h0M1219.2 528.1h0M1220 453.7h0M1220.1 434.2h0M1220.9 421.9h0M1221.1 434.8h0M1221.3 476.4h0M1221.6 437.5h0M1221.8 468.7h0M1222 446.7h0M1222.1 402.2h0M1223.3 429.9h0M1223.3 456.1h0M1223.4 425.3h0M1223.4 457.8h0M1223.5 428.4h0M1223.6 425h0M1224.3 442.1h0M1225 428.5h0M1225.5 441.4h0M1226.2 447.2h0M1226.8 401.6h0M1226.9 422.5h0M1227.1 442h0M1227.4 452.3h0M1227.4 431.6h0M1227.6 423.2h0M1227.7 417h0M1227.8 403.4h0M1227.9 425.6h0M1228 460.4h0M1228.2 391.3h0M1228.4 410.5h0M1228.6 417.8h0M1228.7 456.4h0M1229.6 469.4h0M1231.1 445.2h0M1231.2 496.2h0M1231.4 410.4h0M1231.6 463.3h0M1231.8 444.2h0M1231.8 403.1h0M1231.8 422.5h0M1232 445.6h0M1232.8 393.9h0M1233.1 464.3h0M1233.2 423.7h0M1233.3 438.4h0M1233.4 421.7h0M1233.6 437.9h0M1233.7 449.7h0M1234.5 418.6h0M1234.5 453h0M1234.5 410.8h0M1234.7 428.7h0M1234.8 398.9h0M1234.9 429.2h0" stroke="#10108c" stroke-width="5" stroke-linecap="round" fill="none" opacity="0.8"/>
<path d="M1239.6 366.1h0M1246.4 371.9h0M1252.2 383.4h0M1257.2 391.7h0M1262.7 392.2h0M1271.1 390h0M1276.1 390.3h0M1283.6 404.1h0M1288.7 416.6h0M1294.3 425.1h0M1301.3 430.7h0M1306.8 434.7h0M1313.1 443.6h0M1318.6 455h0M1325.8 475.1h0M1332.2 489.9h0M1337.2 498.1h0M1344.9 511.1h0M1349.3 523.9h0M1356 551.7h0M1360.8 562.1h0M1366.7 567.7h0M1375.6 578.2h0M1381.2 589.6h0M1387.1 612.6h0M1391.2 629.7h0M1398.7 640.3h0M1404.9 644.8h0M1410.8 652.7h0M1417 673.1h0M1422.3 690.2h0M1428.9 708.9h0M1434.3 721.1h0M1441 735.8h0M1447.6 752.3h0M1452.9 767h0M1459.3 785.6h0M1465.3 801.3h0M1471.8 815.6h0M1478.5 830.3h0M1484.1 844.4h0M1490.3 860h0M1495.1 872.1h0M1502 886.8h0M1508.9 901.4h0M1513.9 912.9h0M1520.3 929.1h0M1526 943.1h0M1533.7 959.7h0M1538.5 968.8h0M1544.4 979.7h0M1551.5 995h0M1557.9 1008.8h0M1563.6 1020.4h0M1570 1029.8h0M1575.6 1036.9h0M1581.5 1044.9h0M1587.4 1054.5h0M1593.4 1064.4h0M1599.5 1074.3h0M1606.2 1083.4h0M1612 1090.8h0M1618.2 1099.7h0M1624.7 1108.2h0M1630.3 1115.1h0M1635.5 1120h0M1642 1125.8h0M1647.9 1131.9h0M1653.4 1140h0M1660.9 1149.9h0M1666.1 1156.2h0M1672.2 1160.5h0M1678.4 1164.8h0M1685.9 1172.2h0M1691.2 1178.9h0M1698.2 1188.5h0M1703.5 1194.2h0M1709.4 1198.5h0M1716.2 1203h0M1722.3 1209.2h0M1728.1 1214.7h0M1733.4 1219.8h0M1739.9 1223.4h0M1745.5 1226.1h0M1752.2 1230.6h0M1758.6 1236.6h0M1765.6 1243.2h0M1771.7 1247.3h0M1777.3 1250.1h0M1783.6 1253.3h0M1789.2 1258.6h0M1797 1265.6h0M1802.3 1269.6h0M1809.1 1271.2h0M1813.7 1272.1h0M1819.8 1274.1h0M1823.7 1276.5h0M1826.6 1278.2h0M1830.2 1280.3h0M1832.8 1281.8h0M1837.6 1283.8h0M1840.5 1284h0M1844.5 1284.3h0M1847.2 1284.4h0M1849.6 1284.6h0M1854.7 1286.3h0M1858.7 1288.3h0M1860.4 1289.1h0M1864.1 1291h0M1868.1 1292.9h0M1871.6 1294h0M1874.1 1294h0M1880 1294.3h0M1883 1294.4h0M1885.3 1294.5h0M1888 1295.9h0M1893 1298.5h0M1897.6 1301.1h0M1900.3 1302.7h0M1904 1305h0M1906 1305.4h0M1910.3 1306.2h0M1912.6 1306.7h0M1918.5 1308.1h0M1921 1309.4h0M1922.6 1310.6h0M1926.3 1313.2h0M1931.4 1316.9h0M1934.6 1319.2h0M1937.8 1321.4h0M1942 1322.3h0M1946.4 1323h0M1948.8 1323.3h0M1950.7 1323.6h0M1955.4 1325.1h0M1958 1326.7h0M1961.9 1328.9h0M1966.2 1331.4h0M1969.3 1333.2h0M1972.2 1334.7h0M1976.4 1335h0M1979.3 1335.2h0M1983.7 1335.5h0M1986.7 1335.6h0M1990.6 1337.2h0M1993.6 1338.7h0M1997.8 1340.6h0M2000.7 1341.9h0M2004.3 1343.5h0M2007.4 1344.2h0M2011.3 1344h0M2013.5 1343.8h0M2020.1 1343.3h0M2021.2 1343.3h0M2025.3 1344.8h0M2028.3 1346h0M2031.8 1347.4h0M2035.9 1349h0M2038.8 1350.2h0M2042.3 1350.6h0M2045.1 1350.4h0M2048.9 1350.2h0M2052.3 1350h0M2057.8 1351h0M2059.1 1351.5h0M2062.8 1353.1h0M2067.2 1355h0M2071.5 1356.9h0M2072.8 1357.5h0" stroke="#4040aa" stroke-width="5.4" stroke-linecap="round" fill="none"/>
</g>
<rect x="266.5" y="279.0" width="1917.5" height="1078.0" fill="none" stroke="#000" stroke-width="4.2" stroke-linejoin="miter"/>
<path d="M440.8 1357.0v17.7M789.5 1357.0v17.7M1138.1 1357.0v17.7M1486.7 1357.0v17.7M1835.4 1357.0v17.7M2184.0 1357.0v17.7M266.5 1357.0h-17.7M266.5 1069.6h-17.7M266.5 782.2h-17.7M266.5 494.8h-17.7M401.8 279.0v-17.7M701.9 279.0v-17.7M1087.9 279.0v-17.7M1602.5 279.0v-17.7" stroke="#000" stroke-width="3.6" fill="none"/>
<g style="font-family:'DejaVu Sans','Liberation Sans',sans-serif;font-size:99.5px" fill="#000">
<text x="440.8" y="1470" text-anchor="middle">700</text>
<text x="789.5" y="1470" text-anchor="middle">800</text>
<text x="1138.1" y="1470" text-anchor="middle">900</text>
<text x="1486.7" y="1470" text-anchor="middle">1000</text>
<text x="1835.4" y="1470" text-anchor="middle">1100</text>
<text x="2184.0" y="1470" text-anchor="middle">1200</text>
<text x="231" y="1395.8" text-anchor="end">0</text>
<text x="231" y="1108.4" text-anchor="end">1</text>
<text x="231" y="821.0" text-anchor="end">2</text>
<text x="231" y="533.6" text-anchor="end">3</text>
<text x="401.8" y="225.7" text-anchor="middle">1.8</text>
<text x="701.9" y="225.7" text-anchor="middle">1.6</text>
<text x="1087.9" y="225.7" text-anchor="middle">1.4</text>
<text x="1602.5" y="225.7" text-anchor="middle">1.2</text>
<text x="1225" y="128" text-anchor="middle">E [eV]</text>
<text x="1230" y="1585.3" text-anchor="middle"><tspan font-style="italic">λ</tspan> [nm]</text>
<text transform="translate(128 822.5) rotate(-90)" text-anchor="middle" style="font-size:100.3px">PL Intensity [A.U.]</text>
</g>
<rect x="553" y="1620" width="1342" height="239" rx="9" fill="#fff" fill-opacity="0.8" stroke="#cccccc" stroke-width="3.5"/>
<rect x="629" y="1652" width="55.5" height="55.5" fill="#000"/>
<rect x="629" y="1760.5" width="55.5" height="55.5" fill="#008000"/>
<rect x="1346" y="1652" width="55.5" height="55.5" fill="#a00000"/>
<rect x="1346" y="1760.5" width="55.5" height="55.5" fill="#000080"/>
<g style="font-family:'DejaVu Sans','Liberation Sans',sans-serif;font-size:75px" fill="#000">
<text x="789" y="1707.5">Sample D</text>
<text x="789" y="1816">Sample E</text>
<text x="1505" y="1707.5">Sample F</text>
<text x="1505" y="1816">Sample H</text>
</g>
<text x="461.0" y="388.0" style="font-family:Carlito,'Liberation Sans',sans-serif;font-weight:bold;font-variant-ligatures:none;font-feature-settings:'liga' 0;font-size:68px" fill="#000088" textLength="315.0" lengthAdjust="spacingAndGlyphs">P = 600 nm</text>
<text x="523.0" y="472.0" style="font-family:Carlito,'Liberation Sans',sans-serif;font-weight:bold;font-variant-ligatures:none;font-feature-settings:'liga' 0;font-size:68px" fill="#000088" textLength="206.0" lengthAdjust="spacingAndGlyphs">grating</text>
<text x="463.0" y="665.0" style="font-family:Carlito,'Liberation Sans',sans-serif;font-weight:bold;font-variant-ligatures:none;font-feature-settings:'liga' 0;font-size:68px" fill="#aa0000" textLength="349.0" lengthAdjust="spacingAndGlyphs">P = 1000 nm</text>
<text x="542.0" y="749.0" style="font-family:Carlito,'Liberation Sans',sans-serif;font-weight:bold;font-variant-ligatures:none;font-feature-settings:'liga' 0;font-size:68px" fill="#aa0000" textLength="205.0" lengthAdjust="spacingAndGlyphs">grating</text>
<text x="1670.0" y="469.7" style="font-family:Carlito,'Liberation Sans',sans-serif;font-weight:bold;font-variant-ligatures:none;font-feature-settings:'liga' 0;font-size:68px" fill="#009922" textLength="423.0" lengthAdjust="spacingAndGlyphs">Homogeneous</text>
<text x="1847.0" y="553.0" style="font-family:Carlito,'Liberation Sans',sans-serif;font-weight:bold;font-variant-ligatures:none;font-feature-settings:'liga' 0;font-size:68px" fill="#009922" textLength="81.0" lengthAdjust="spacingAndGlyphs">irr.</text>
<text x="1897.0" y="861.0" style="font-family:Carlito,'Liberation Sans',sans-serif;font-weight:bold;font-variant-ligatures:none;font-feature-settings:'liga' 0;font-size:68px" fill="#000" textLength="241.0" lengthAdjust="spacingAndGlyphs">No laser</text>
<text x="1975.0" y="944.7" style="font-family:Carlito,'Liberation Sans',sans-serif;font-weight:bold;font-variant-ligatures:none;font-feature-settings:'liga' 0;font-size:68px" fill="#000" textLength="81.0" lengthAdjust="spacingAndGlyphs">Irr.</text>
<path d="M778.7 445L1065.3 541.4" stroke="#000088" stroke-width="10" fill="none"/>
<path d="M1092.2 549.8L1070.4 528L1060.3 554.8Z" fill="#000088"/>
<path d="M642.8 781.3L1048.0 965.6" stroke="#aa0000" stroke-width="10" fill="none"/>
<path d="M1075 978.2L1054 952.8L1041.9 978.4Z" fill="#aa0000"/>
<path d="M1800 588L1589.3 1148.8" stroke="#009922" stroke-width="10" fill="none"/>
<path d="M1578.9 1175.9L1576 1143.6L1602.6 1154Z" fill="#009922"/>
<path d="M1938 942L1663.0 1215.8" stroke="#000" stroke-width="10" fill="none"/>
<path d="M1643.5 1236.8L1653 1206.3L1673 1225.4Z" fill="#000"/>
</svg></div>
</body></html>
